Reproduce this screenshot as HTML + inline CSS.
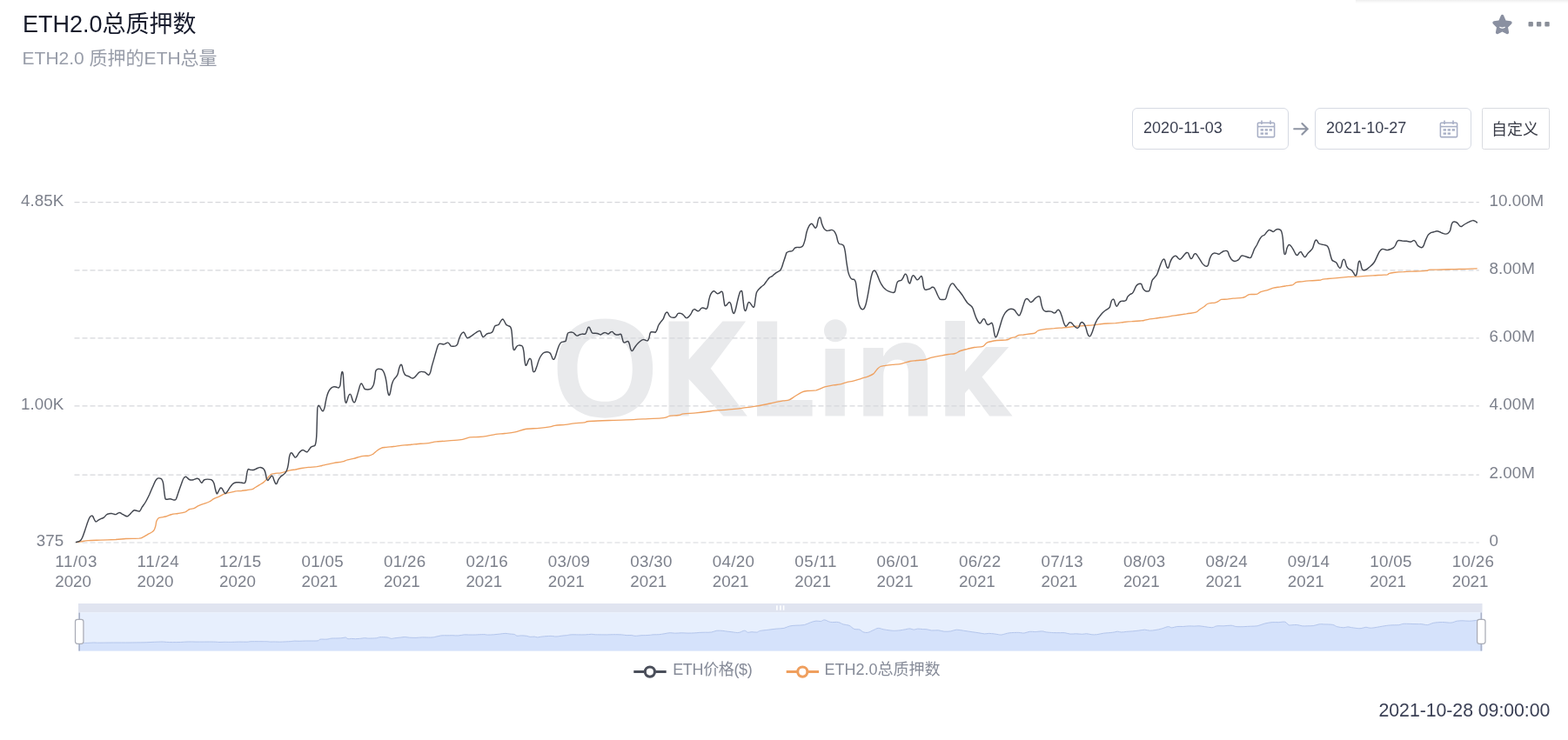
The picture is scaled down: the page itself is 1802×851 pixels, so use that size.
<!DOCTYPE html>
<html><head><meta charset="utf-8"><title>ETH2.0</title>
<style>
*{margin:0;padding:0;box-sizing:border-box}
html,body{width:1802px;height:851px;background:#fff;overflow:hidden}
body{position:relative;font-family:"Liberation Sans","Noto Sans CJK SC",sans-serif}
.abs{position:absolute;white-space:nowrap}
#topsh{left:1558px;top:0;width:244px;height:4px;background:linear-gradient(#eeeeee,#f7f7f7 50%,#fff)}
#title{left:25.9px;top:12.7px;font-size:27px;line-height:31px;color:#171b2c}
#sub{left:25.6px;top:55.3px;font-size:21px;line-height:24px;color:#989da9}
.box{top:124.2px;height:47.6px;border:1.5px solid #d6dae3;border-radius:6px;background:#fff}
.box .t{position:absolute;left:11.8px;top:11.9px;font-size:18px;line-height:21px;color:#3a3f50}
.box svg.cal{position:absolute;left:141.3px;top:12.4px}
#btn{left:1703px;top:124.4px;width:77.6px;height:47.2px;padding-right:1.4px;border:1.5px solid #d9dbe0;border-radius:2.4px;font-size:18px;line-height:21px;color:#3a3d48;text-align:center;padding-top:14px}
#ts{left:1584.5px;top:805.2px;font-size:21.3px;line-height:24px;color:#3b4055;letter-spacing:-0.05px}
.lg{top:760.3px;font-size:18px;line-height:21px;color:#868b98;letter-spacing:-0.35px}
#chart{position:absolute;left:0;top:0}
#chart .ax text{font-family:"Liberation Sans",sans-serif;font-size:18.8px;fill:#7d818c}
#wrap{position:absolute;left:0;top:0;width:1802px;height:851px;will-change:transform}
</style></head><body><div id="wrap">
<div class="abs" id="topsh"></div>
<div class="abs" id="title">ETH2.0总质押数</div>
<div class="abs" id="sub">ETH2.0 质押的ETH总量</div>
<svg class="abs" style="left:1713.1px;top:14.9px" width="27" height="27" viewBox="0 0 26 26"><path d="M13 1.7 C13.7 1.7 14.3 2.1 14.6 2.9 L16.9 8.3 L22.2 9 C23.7 9.2 24.3 11 23.2 12.1 L19.3 15.9 L20.3 21.3 C20.6 22.8 19 23.9 17.7 23.2 L13 20.6 L8.3 23.2 C7 23.9 5.4 22.8 5.7 21.3 L6.7 15.9 L2.8 12.1 C1.7 11 2.3 9.2 3.8 9 L9.1 8.3 L11.4 2.9 C11.7 2.1 12.3 1.7 13 1.7 Z" fill="#8a90a1"/><path d="M10.3 15.7 C12 16.7 14 16.7 15.7 15.7" fill="none" stroke="#fff" stroke-width="1.1" stroke-linecap="round"/></svg>
<svg class="abs" style="left:1755px;top:24px" width="28" height="8" viewBox="0 0 28 8"><g fill="#8a8f99"><rect x="1.5" y="1" width="5.4" height="5.4" rx="1"/><rect x="10.9" y="1" width="5.4" height="5.4" rx="1"/><rect x="20.3" y="1" width="5.4" height="5.4" rx="1"/></g></svg>
<div class="abs box" style="left:1301.300px;width:179.500px"><span class="t">2020-11-03</span><svg class="cal" viewBox="0 0 22 21" width="22" height="21"><g fill="none" stroke="#a7aec5" stroke-width="1.55"><rect x="1.4" y="3.2" width="19.2" height="16.4" rx="1"/><line x1="1.4" y1="7.6" x2="20.6" y2="7.6"/><line x1="6" y1="0.5" x2="6" y2="5"/><line x1="16" y1="0.5" x2="16" y2="5"/></g><g fill="#a9b0c6"><rect x="4.6" y="10.2" width="3.4" height="2.4"/><rect x="9.6" y="10.2" width="3.4" height="2.4"/><rect x="14.6" y="10.2" width="3.4" height="2.4"/><rect x="4.6" y="14.4" width="3.4" height="2.4"/><rect x="9.6" y="14.4" width="3.4" height="2.4"/></g></svg></div>
<svg class="abs" style="left:1484px;top:138px" width="24" height="21" viewBox="0 0 24 21"><path d="M3.2 10.3H18.4M12.4 4L18.7 10.3L12.4 16.6" fill="none" stroke="#8e94a3" stroke-width="2.1" stroke-linecap="round" stroke-linejoin="miter"/></svg>
<div class="abs box" style="left:1511.300px;width:179.500px"><span class="t">2021-10-27</span><svg class="cal" viewBox="0 0 22 21" width="22" height="21"><g fill="none" stroke="#a7aec5" stroke-width="1.55"><rect x="1.4" y="3.2" width="19.2" height="16.4" rx="1"/><line x1="1.4" y1="7.6" x2="20.6" y2="7.6"/><line x1="6" y1="0.5" x2="6" y2="5"/><line x1="16" y1="0.5" x2="16" y2="5"/></g><g fill="#a9b0c6"><rect x="4.6" y="10.2" width="3.4" height="2.4"/><rect x="9.6" y="10.2" width="3.4" height="2.4"/><rect x="14.6" y="10.2" width="3.4" height="2.4"/><rect x="4.6" y="14.4" width="3.4" height="2.4"/><rect x="9.6" y="14.4" width="3.4" height="2.4"/></g></svg></div>
<div class="abs" id="btn">自定义</div>
<svg id="chart" width="1802" height="851" viewBox="0 0 1802 851"><g id="wm" fill="#e9eaec" style="filter:blur(0.5px)"><path fill-rule="evenodd" d="M695.4 366.6C729.9 366.6 750.2 387.7 750.2 423.6C750.2 459.6 729.9 480.7 695.4 480.7C660.9 480.7 640.6 459.6 640.6 423.6C640.6 387.7 660.9 366.6 695.4 366.6ZM695.1 386.0C716.0 386.0 726.8 398.9 726.8 423.9C726.8 448.8 716.0 461.7 695.1 461.7C674.3 461.7 663.5 448.8 663.5 423.9C663.5 398.9 674.3 386.0 695.1 386.0Z"/><path d="M768.500 369.600H791.700V413.500L830.400 369.600H857.100L816.700 423.800L858.800 478.500H831.300L791.700 436V478.500H768.500Z"/><path d="M870 369.600H893.200V459.900H933.600V478.500H870Z"/><circle cx="960" cy="380.300" r="13"/><rect x="948.400" y="401" width="22.400" height="77.400"/><path d="M992.200 478.400V400H1015.200V410C1020.500 400 1030 394.100 1040.500 394.100C1057 394.100 1066.200 405 1066.200 424V478.400H1043.800V428C1043.800 418 1039 413.400 1031.500 413.400C1022 413.400 1015.200 420 1015.200 432V478.400Z"/><path d="M1086.300 369H1109V427.400L1133.100 399.100H1159.400L1128.500 433.500L1163.600 478.400H1137.200L1113.500 447L1109 452V478.400H1086.300Z"/></g>
<line x1="85.5" x2="1699.8" y1="232.6" y2="232.6" stroke="#d6d7db" stroke-width="1.15" stroke-dasharray="6 3"/>
<line x1="85.5" x2="1699.8" y1="310.8" y2="310.8" stroke="#d6d7db" stroke-width="1.15" stroke-dasharray="6 3"/>
<line x1="85.5" x2="1699.8" y1="388.8" y2="388.8" stroke="#d6d7db" stroke-width="1.15" stroke-dasharray="6 3"/>
<line x1="85.5" x2="1699.8" y1="466.9" y2="466.9" stroke="#d6d7db" stroke-width="1.15" stroke-dasharray="6 3"/>
<line x1="85.5" x2="1699.8" y1="546.1" y2="546.1" stroke="#d6d7db" stroke-width="1.15" stroke-dasharray="6 3"/>
<line x1="85.5" x2="1699.8" y1="624.0" y2="624.0" stroke="#d6d7db" stroke-width="1.15" stroke-dasharray="6 3"/>
<g class="ax" text-anchor="end">
<text x="73.2" y="236.7">4.85K</text>
<text x="73.2" y="471.0">1.00K</text>
<text x="73.2" y="628.1">375</text>
</g><g class="ax">
<text x="1711.6" y="236.6">10.00M</text>
<text x="1711.6" y="314.8">8.00M</text>
<text x="1711.6" y="392.8">6.00M</text>
<text x="1711.6" y="470.9">4.00M</text>
<text x="1711.6" y="550.1">2.00M</text>
<text x="1711.6" y="628.0">0</text>
<text x="63.2" y="651.9" textLength="48.2" lengthAdjust="spacing">11/03</text><text x="63.2" y="675.2">2020</text>
<text x="157.6" y="651.9" textLength="48.2" lengthAdjust="spacing">11/24</text><text x="157.6" y="675.2">2020</text>
<text x="252.1" y="651.9" textLength="48.2" lengthAdjust="spacing">12/15</text><text x="252.1" y="675.2">2020</text>
<text x="346.5" y="651.9" textLength="48.2" lengthAdjust="spacing">01/05</text><text x="346.5" y="675.2">2021</text>
<text x="441.0" y="651.9" textLength="48.2" lengthAdjust="spacing">01/26</text><text x="441.0" y="675.2">2021</text>
<text x="535.4" y="651.9" textLength="48.2" lengthAdjust="spacing">02/16</text><text x="535.4" y="675.2">2021</text>
<text x="629.8" y="651.9" textLength="48.2" lengthAdjust="spacing">03/09</text><text x="629.8" y="675.2">2021</text>
<text x="724.3" y="651.9" textLength="48.2" lengthAdjust="spacing">03/30</text><text x="724.3" y="675.2">2021</text>
<text x="818.7" y="651.9" textLength="48.2" lengthAdjust="spacing">04/20</text><text x="818.7" y="675.2">2021</text>
<text x="913.2" y="651.9" textLength="48.2" lengthAdjust="spacing">05/11</text><text x="913.2" y="675.2">2021</text>
<text x="1007.6" y="651.9" textLength="48.2" lengthAdjust="spacing">06/01</text><text x="1007.6" y="675.2">2021</text>
<text x="1102.0" y="651.9" textLength="48.2" lengthAdjust="spacing">06/22</text><text x="1102.0" y="675.2">2021</text>
<text x="1196.5" y="651.9" textLength="48.2" lengthAdjust="spacing">07/13</text><text x="1196.5" y="675.2">2021</text>
<text x="1290.9" y="651.9" textLength="48.2" lengthAdjust="spacing">08/03</text><text x="1290.9" y="675.2">2021</text>
<text x="1385.4" y="651.9" textLength="48.2" lengthAdjust="spacing">08/24</text><text x="1385.4" y="675.2">2021</text>
<text x="1479.8" y="651.9" textLength="48.2" lengthAdjust="spacing">09/14</text><text x="1479.8" y="675.2">2021</text>
<text x="1574.2" y="651.9" textLength="48.2" lengthAdjust="spacing">10/05</text><text x="1574.2" y="675.2">2021</text>
<text x="1668.7" y="651.9" textLength="48.2" lengthAdjust="spacing">10/26</text><text x="1668.7" y="675.2">2021</text>
</g>
<path d="M87.6 623.6C88.5 623.5 90.7 623.2 92.9 622.8C95.2 622.5 97.4 622.0 101.2 621.7C104.9 621.4 110.0 621.3 115.2 621.1C120.5 620.9 128.0 620.7 132.9 620.5C137.8 620.2 140.1 619.8 144.6 619.5C149.1 619.3 156.7 619.3 159.9 619.1C163.1 618.8 162.5 618.6 164.0 617.9C165.6 617.2 167.6 615.8 169.3 614.8C171.0 613.9 172.7 613.1 174.0 612.3C175.3 611.4 176.2 611.1 176.9 609.9C177.7 608.7 178.2 607.0 178.7 605.2C179.2 603.4 179.3 600.9 179.9 599.3C180.5 597.8 181.2 596.5 182.2 595.8C183.2 595.1 184.4 595.2 185.8 594.9C187.1 594.6 188.5 594.6 190.5 594.0C192.4 593.5 195.2 592.0 197.5 591.5C199.9 590.9 202.0 591.0 204.6 590.5C207.1 590.1 210.5 589.6 212.8 588.8C215.0 587.9 216.4 586.1 218.1 585.5C219.7 584.8 221.1 585.3 222.8 584.6C224.4 584.0 226.2 582.6 228.1 581.7C229.9 580.8 231.9 580.1 233.9 579.4C236.0 578.6 238.4 577.9 240.4 577.0C242.4 576.1 243.8 574.7 245.7 573.7C247.6 572.7 249.4 572.1 251.6 571.1C253.7 570.1 256.3 568.4 258.6 567.6C261.0 566.8 263.3 566.7 265.7 566.2C268.0 565.7 270.8 564.9 272.7 564.7C274.6 564.4 275.2 564.8 277.1 564.6C278.9 564.4 281.9 563.8 284.1 563.5C286.3 563.1 288.4 563.1 290.0 562.6C291.5 562.1 292.1 561.4 293.5 560.5C294.9 559.7 296.6 558.6 298.2 557.6C299.8 556.6 301.5 555.7 302.9 554.6C304.3 553.6 305.4 552.3 306.4 551.1C307.5 549.9 308.4 548.6 309.4 547.6C310.3 546.6 311.1 545.8 312.3 545.2C313.5 544.7 314.7 544.5 316.4 544.3C318.2 544.1 320.8 544.2 322.9 543.8C324.9 543.5 327.0 542.8 328.8 542.3C330.5 541.8 331.7 541.3 333.4 540.9C335.2 540.5 337.2 540.3 339.3 540.0C341.5 539.6 343.8 539.0 346.4 538.5C348.9 538.1 351.7 537.7 354.6 537.4C357.5 537.1 361.5 537.0 364.0 536.7C366.6 536.3 367.9 535.9 369.9 535.5C371.8 535.1 373.4 534.6 375.8 534.1C378.1 533.6 381.0 532.8 384.0 532.3C386.9 531.8 390.8 531.5 393.4 530.9C395.9 530.3 397.1 529.4 399.3 528.8C401.4 528.2 404.0 528.0 406.3 527.4C408.7 526.8 411.4 525.8 413.4 525.3C415.3 524.8 416.3 524.6 418.1 524.4C419.8 524.2 422.2 524.4 423.9 524.1C425.7 523.7 427.1 523.3 428.6 522.3C430.2 521.4 431.8 519.4 433.3 518.2C434.9 517.0 436.3 515.9 438.0 515.3C439.8 514.6 441.6 514.6 443.9 514.3C446.3 514.0 449.4 513.8 452.1 513.5C454.9 513.2 457.4 512.7 460.4 512.3C463.3 512.0 467.4 511.8 470.0 511.5C472.6 511.3 472.0 511.3 476.0 510.9C480.0 510.5 489.6 509.8 494.0 509.3C498.3 508.8 496.3 508.5 501.9 507.9C507.6 507.3 521.6 506.7 527.9 505.9C534.2 505.1 536.2 503.5 539.9 502.9C543.6 502.3 546.6 502.8 549.9 502.5C553.2 502.2 556.6 501.8 559.9 501.3C563.2 500.8 566.5 499.8 569.9 499.3C573.2 498.8 576.2 498.9 579.9 498.5C583.5 498.1 587.9 497.7 591.9 496.9C595.8 496.1 599.2 494.3 603.8 493.5C608.5 492.8 615.2 492.8 619.8 492.3C624.5 491.9 628.8 491.4 631.8 490.9C634.8 490.4 634.8 489.8 637.8 489.3C640.8 488.9 646.1 488.7 649.8 488.3C653.5 487.9 656.1 487.3 659.8 486.9C663.4 486.5 668.9 486.3 671.8 485.9C674.6 485.5 672.1 484.9 676.8 484.5C681.4 484.1 692.6 483.8 699.7 483.5C706.9 483.3 713.1 483.2 719.7 482.9C726.4 482.7 733.0 482.3 739.7 481.9C746.3 481.6 755.3 481.3 759.7 480.9C764.0 480.6 764.0 480.4 765.7 479.9C767.3 479.5 767.3 478.7 769.6 478.3C772.0 477.9 777.0 477.9 779.6 477.5C782.3 477.1 782.3 476.4 785.6 475.9C789.0 475.5 795.3 475.3 799.6 474.9C803.9 474.5 807.9 474.0 811.6 473.5C815.3 473.1 816.6 472.8 822.0 472.2C827.4 471.7 836.0 471.3 844.0 470.4C852.0 469.6 862.3 468.1 869.9 466.9C877.6 465.6 884.9 463.9 889.9 462.9C894.9 461.9 897.1 461.4 899.9 460.9C902.7 460.4 904.6 460.8 906.9 459.9C909.2 459.0 911.4 457.0 913.9 455.5C916.4 454.0 919.5 451.9 921.9 450.9C924.2 449.9 925.2 449.8 927.9 449.5C930.5 449.1 934.5 449.6 937.9 448.9C941.2 448.1 944.5 445.9 947.9 444.9C951.2 443.9 954.8 443.4 957.8 442.9C960.8 442.4 963.2 442.5 965.8 441.9C968.5 441.3 971.5 439.9 973.8 439.3C976.2 438.7 977.1 439.0 979.8 438.3C982.5 437.6 986.8 436.2 989.8 435.3C992.8 434.4 995.5 433.8 997.8 432.9C1000.1 432.0 1002.1 431.2 1003.8 429.9C1005.4 428.6 1006.4 426.3 1007.8 424.9C1009.1 423.5 1010.1 422.3 1011.8 421.5C1013.4 420.7 1015.4 420.7 1017.8 420.3C1020.1 419.9 1022.8 419.6 1025.8 419.3C1028.8 419.0 1032.4 418.9 1035.8 418.3C1039.1 417.7 1042.7 416.2 1045.7 415.5C1048.7 414.9 1050.7 414.9 1053.7 414.5C1056.7 414.2 1061.1 414.1 1063.7 413.5C1066.4 413.0 1067.0 412.0 1069.7 411.3C1072.4 410.6 1076.4 410.0 1079.7 409.3C1083.0 408.7 1086.7 408.0 1089.7 407.5C1092.7 407.1 1095.4 407.2 1097.7 406.5C1100.0 405.9 1101.3 404.4 1103.7 403.5C1106.0 402.7 1109.0 402.0 1111.7 401.3C1114.3 400.7 1116.7 400.0 1119.7 399.5C1122.6 399.0 1127.1 399.3 1129.6 398.3C1132.1 397.4 1132.0 395.1 1134.6 393.9C1137.3 392.8 1142.2 392.0 1145.6 391.5C1149.0 391.1 1152.8 391.3 1155.0 391.1C1157.2 390.9 1157.4 390.9 1158.5 390.5C1159.7 390.1 1160.7 389.2 1162.0 388.7C1163.4 388.2 1165.3 388.1 1166.8 387.6C1168.2 387.0 1169.3 385.9 1170.9 385.4C1172.4 385.0 1174.1 385.2 1176.2 385.0C1178.2 384.7 1181.0 384.3 1183.2 384.0C1185.4 383.7 1187.5 383.7 1189.1 383.1C1190.6 382.5 1191.4 381.1 1192.6 380.5C1193.8 379.9 1194.6 379.7 1196.1 379.3C1197.7 379.0 1199.5 378.7 1202.0 378.4C1204.5 378.1 1208.3 377.8 1211.4 377.6C1214.5 377.3 1217.7 377.2 1220.8 377.0C1223.9 376.7 1227.1 376.4 1230.2 376.0C1233.3 375.7 1236.5 375.1 1239.6 374.9C1242.7 374.6 1246.3 374.6 1249.0 374.4C1251.8 374.2 1253.7 374.1 1256.1 373.8C1258.4 373.6 1260.4 373.2 1263.1 372.9C1265.9 372.6 1269.4 372.2 1272.5 372.0C1275.6 371.8 1278.8 371.9 1281.9 371.7C1285.0 371.4 1288.2 370.9 1291.3 370.5C1294.4 370.2 1297.6 369.9 1300.7 369.7C1303.8 369.4 1307.8 369.2 1310.1 369.0C1312.5 368.8 1313.2 368.8 1314.8 368.5C1316.4 368.2 1317.4 367.7 1319.5 367.3C1321.7 366.9 1325.0 366.6 1327.7 366.2C1330.5 365.8 1332.2 365.5 1336.0 365.0C1339.7 364.4 1345.5 363.6 1350.1 362.9C1354.7 362.2 1359.5 361.5 1363.5 360.9C1367.5 360.2 1371.8 360.0 1374.2 359.2C1376.7 358.4 1376.7 357.2 1378.2 356.2C1379.8 355.1 1382.0 353.9 1383.6 352.8C1385.1 351.7 1386.3 350.2 1387.6 349.5C1388.9 348.7 1390.2 348.7 1391.6 348.5C1393.1 348.2 1394.9 348.5 1396.3 348.1C1397.8 347.8 1399.1 347.1 1400.3 346.5C1401.6 345.8 1402.0 344.8 1403.7 344.4C1405.4 344.1 1408.1 344.3 1410.4 344.1C1412.6 343.9 1414.2 343.4 1417.1 343.1C1420.0 342.8 1425.3 342.8 1427.8 342.4C1430.2 342.0 1430.5 341.4 1431.8 340.8C1433.1 340.1 1433.8 339.0 1435.8 338.6C1437.8 338.2 1441.9 338.8 1443.9 338.4C1445.9 338.0 1446.8 336.6 1447.9 336.1C1449.0 335.5 1448.8 335.6 1450.4 335.2C1452.0 334.7 1455.3 334.1 1457.5 333.4C1459.6 332.7 1461.0 331.7 1463.4 331.1C1465.7 330.5 1469.0 330.3 1471.6 329.9C1474.1 329.5 1476.3 329.1 1478.6 328.7C1481.0 328.3 1483.8 328.2 1485.7 327.6C1487.5 326.9 1488.0 325.2 1489.8 324.6C1491.6 324.0 1493.8 324.1 1496.3 323.8C1498.7 323.5 1501.9 323.1 1504.5 322.9C1507.1 322.7 1509.8 322.7 1512.0 322.5C1514.3 322.4 1516.6 322.2 1517.9 322.0C1519.3 321.7 1517.5 321.5 1520.3 321.1C1523.0 320.8 1529.5 320.3 1534.4 319.8C1539.3 319.4 1544.8 318.8 1549.7 318.4C1554.5 318.1 1559.0 318.1 1563.8 317.8C1568.5 317.6 1573.9 317.2 1577.9 316.9C1581.8 316.6 1584.5 316.5 1587.3 316.3C1590.0 316.1 1592.7 316.2 1594.3 315.9C1595.9 315.5 1595.5 314.7 1596.7 314.3C1597.8 313.9 1598.6 313.8 1601.4 313.5C1604.1 313.2 1608.8 312.8 1613.1 312.6C1617.4 312.3 1622.9 312.2 1627.2 312.0C1631.5 311.8 1636.2 311.7 1639.0 311.4C1641.7 311.1 1640.5 310.4 1643.7 310.2C1646.8 310.0 1653.1 310.1 1657.8 310.0C1662.5 309.9 1667.2 309.7 1671.9 309.6C1676.6 309.5 1681.7 309.4 1686.0 309.3C1690.2 309.1 1695.3 308.9 1697.1 308.8" fill="none" stroke="#efa160" stroke-width="1.35" stroke-linejoin="round" stroke-linecap="round"/>
<path d="M87.6 623.4C88.3 623.2 90.7 622.9 91.8 622.2C92.8 621.6 93.1 621.4 94.1 619.3C95.1 617.3 96.5 613.2 97.6 609.9C98.8 606.6 100.2 601.9 101.2 599.3C102.1 596.7 102.8 595.4 103.5 594.4C104.2 593.4 104.7 593.2 105.3 593.1C105.8 593.0 106.2 593.2 106.8 594.0C107.4 594.9 108.2 597.2 108.8 598.2C109.4 599.1 109.5 600.0 110.3 599.9C111.1 599.9 112.5 598.5 113.5 597.9C114.5 597.3 115.5 596.8 116.4 596.4C117.4 595.9 118.4 595.9 119.4 595.2C120.3 594.5 121.3 592.8 122.3 592.0C123.3 591.3 124.3 591.0 125.2 590.8C126.2 590.5 127.2 590.4 128.2 590.5C129.2 590.6 130.2 591.2 131.1 591.3C132.0 591.5 132.5 591.8 133.5 591.5C134.4 591.2 135.9 589.7 137.0 589.6C138.1 589.5 138.9 590.2 139.9 590.8C141.0 591.3 142.4 592.4 143.4 592.9C144.5 593.4 145.5 593.9 146.4 593.8C147.3 593.7 147.9 592.9 148.7 592.0C149.6 591.2 150.8 589.6 151.7 588.8C152.6 587.9 153.4 587.0 154.3 586.8C155.2 586.5 155.9 587.1 157.0 587.2C158.0 587.4 159.4 588.5 160.5 587.8C161.6 587.1 162.3 584.7 163.4 582.9C164.6 581.1 166.2 579.4 167.5 577.0C168.9 574.6 170.4 571.5 171.7 568.8C172.9 566.0 174.0 563.2 175.2 560.5C176.4 557.9 177.7 554.6 178.7 552.9C179.7 551.2 180.3 550.7 181.1 550.2C181.8 549.7 182.6 549.8 183.4 550.0C184.2 550.1 185.1 550.3 185.8 551.1C186.4 552.0 187.0 552.9 187.5 555.3C188.0 557.6 188.3 562.3 188.7 565.2C189.1 568.2 189.4 571.7 189.9 573.2C190.4 574.7 190.7 574.2 191.6 574.3C192.6 574.4 194.4 573.7 195.8 573.8C197.1 573.9 198.8 575.0 199.9 575.0C200.9 575.0 201.4 575.3 202.2 574.1C203.0 572.8 203.6 570.3 204.6 567.6C205.5 564.9 207.0 560.5 208.1 557.6C209.2 554.7 210.1 551.5 211.0 550.0C211.9 548.4 212.7 548.3 213.4 548.2C214.1 548.1 214.4 548.8 215.1 549.4C215.9 550.0 216.9 551.3 218.1 551.7C219.2 552.1 220.8 552.0 222.2 551.7C223.6 551.5 225.2 550.3 226.3 550.2C227.4 550.1 227.8 550.3 228.7 551.1C229.5 552.0 230.6 555.1 231.6 555.3C232.6 555.4 233.3 552.7 234.5 552.0C235.7 551.3 237.3 551.2 238.6 551.1C240.0 551.1 241.6 551.1 242.8 551.7C243.9 552.4 244.9 553.5 245.7 555.3C246.5 557.0 246.9 560.2 247.4 562.3C248.0 564.4 248.6 567.4 249.2 567.8C249.8 568.3 250.3 566.4 251.0 565.2C251.7 564.1 252.6 561.7 253.3 561.1C254.0 560.6 254.4 560.9 255.1 561.7C255.8 562.5 256.8 564.9 257.4 565.8C258.1 566.8 258.5 567.8 259.2 567.6C259.9 567.4 260.6 566.0 261.6 564.7C262.5 563.3 264.0 560.8 265.1 559.4C266.2 558.0 266.9 556.9 268.0 556.1C269.1 555.3 270.2 554.9 271.5 554.7C272.9 554.5 275.3 554.9 276.2 554.9C277.2 555.0 276.2 554.9 277.1 555.0C277.9 555.1 280.2 556.0 281.2 555.5C282.1 554.9 282.2 553.7 282.7 551.7C283.1 549.7 283.4 545.5 283.9 543.5C284.3 541.5 284.7 540.1 285.3 539.6C285.9 539.1 286.7 540.0 287.6 540.2C288.6 540.3 290.0 540.7 291.1 540.5C292.3 540.3 293.5 539.5 294.7 539.0C295.9 538.5 297.1 537.8 298.2 537.6C299.3 537.4 300.3 537.6 301.1 538.0C302.0 538.4 302.8 538.8 303.5 540.0C304.2 541.1 304.8 542.9 305.2 544.6C305.7 546.4 306.0 549.2 306.4 550.5C306.9 551.8 307.3 552.6 307.8 552.5C308.4 552.4 309.2 550.8 309.9 549.9C310.7 549.1 311.5 547.5 312.1 547.2C312.7 546.9 313.0 547.2 313.5 548.2C314.0 549.1 314.7 551.5 315.2 552.9C315.8 554.2 316.3 555.7 316.8 556.2C317.3 556.7 317.7 556.6 318.2 555.8C318.7 555.1 319.3 552.9 319.9 551.7C320.6 550.5 321.4 549.3 322.3 548.4C323.2 547.5 324.3 546.9 325.2 546.2C326.1 545.5 326.8 545.1 327.6 544.1C328.4 543.0 329.3 541.6 329.9 540.0C330.6 538.3 330.9 536.5 331.3 534.1C331.8 531.6 332.1 527.4 332.5 525.3C333.0 523.1 333.5 521.8 334.0 521.1C334.6 520.5 335.0 520.7 335.6 521.1C336.2 521.6 336.9 523.3 337.6 524.1C338.2 524.9 338.7 526.0 339.3 526.1C339.9 526.2 340.4 525.5 341.1 524.7C341.8 523.9 342.6 522.2 343.4 521.1C344.3 520.1 345.5 518.8 346.4 518.2C347.2 517.6 347.7 517.5 348.5 517.6C349.3 517.8 350.3 518.8 351.1 519.1C351.9 519.5 352.5 520.1 353.2 519.7C353.9 519.4 354.5 518.0 355.2 517.0C355.9 516.1 356.7 514.8 357.5 514.1C358.4 513.4 359.7 513.3 360.5 512.9C361.3 512.5 361.8 512.9 362.2 511.8C362.7 510.6 363.1 508.4 363.4 505.9C363.7 503.3 363.8 502.1 364.0 496.4C364.2 490.7 364.5 476.5 364.7 471.7C364.9 466.9 365.1 468.5 365.4 467.6C365.7 466.7 366.1 466.2 366.6 466.4C367.0 466.6 367.6 467.9 368.1 468.8C368.7 469.7 369.4 471.3 369.9 472.0C370.4 472.6 370.8 473.1 371.3 472.7C371.8 472.2 372.4 470.9 372.8 469.4C373.3 467.9 373.5 465.9 374.0 463.5C374.5 461.1 375.1 457.6 375.8 455.3C376.4 452.9 377.2 451.0 378.1 449.4C379.0 447.8 380.1 446.7 381.1 445.9C382.0 445.1 383.0 444.8 384.0 444.7C385.0 444.6 386.0 445.1 386.9 445.3C387.8 445.5 388.6 446.3 389.3 445.9C390.0 445.5 390.6 444.7 391.0 442.9C391.4 441.2 391.5 437.6 391.8 435.2C392.0 432.9 392.4 430.0 392.7 428.8C393.0 427.5 393.2 427.3 393.5 427.6C393.8 427.9 394.1 428.3 394.3 430.5C394.6 432.8 394.8 437.4 395.0 441.1C395.3 444.8 395.6 449.5 395.9 452.9C396.1 456.2 396.4 459.3 396.7 461.1C397.0 462.8 397.3 463.4 397.6 463.4C398.0 463.4 398.3 462.4 398.8 461.1C399.3 459.7 400.0 456.5 400.6 455.2C401.1 453.9 401.8 453.1 402.3 453.1C402.9 453.1 403.3 454.0 403.7 455.2C404.2 456.4 404.8 459.2 405.3 460.5C405.8 461.8 406.3 462.6 406.8 462.8C407.3 463.0 407.6 462.9 408.2 461.7C408.8 460.4 409.6 457.5 410.3 455.2C411.0 453.0 411.7 450.3 412.3 448.2C412.9 446.0 413.5 443.5 414.1 442.3C414.6 441.1 415.0 440.9 415.5 441.1C416.0 441.3 416.5 442.5 417.0 443.4C417.6 444.4 418.2 446.3 418.8 447.0C419.4 447.7 419.7 447.7 420.5 447.8C421.4 447.9 423.0 448.0 424.1 447.8C425.1 447.6 426.1 447.3 427.0 446.4C427.9 445.5 428.7 444.1 429.4 442.3C430.0 440.4 430.4 437.8 430.8 435.2C431.2 432.7 431.2 428.8 431.7 427.0C432.2 425.2 432.7 425.1 433.5 424.6C434.3 424.2 435.4 424.3 436.4 424.4C437.4 424.5 438.5 424.4 439.3 425.2C440.2 426.1 440.9 427.1 441.7 429.4C442.5 431.6 443.5 435.6 444.0 438.8C444.6 441.9 444.8 445.7 445.2 448.2C445.6 450.6 446.0 452.4 446.4 453.4C446.8 454.5 447.2 454.8 447.6 454.3C448.0 453.8 448.3 452.5 448.7 450.5C449.2 448.5 449.7 444.5 450.3 442.3C450.9 440.0 451.5 438.4 452.3 437.0C453.0 435.6 453.8 435.1 454.6 434.1C455.4 433.0 456.3 432.3 457.0 430.5C457.7 428.8 458.1 425.3 458.7 423.5C459.3 421.6 459.9 419.9 460.5 419.4C461.0 418.9 461.5 419.4 462.0 420.5C462.5 421.7 462.9 424.8 463.4 426.4C464.0 428.1 464.6 429.6 465.2 430.5C465.8 431.4 466.3 431.6 467.0 431.9C467.6 432.3 468.4 432.2 469.3 432.6C470.2 433.1 471.4 434.0 472.2 434.4C473.1 434.8 473.8 435.1 474.6 435.0C475.4 434.8 476.1 434.3 476.9 433.5C477.8 432.6 479.0 430.9 479.9 429.9C480.8 429.0 481.3 428.3 482.2 427.8C483.1 427.4 484.2 427.3 485.2 427.4C486.2 427.4 487.1 427.5 488.1 427.9C489.1 428.4 490.3 429.8 491.1 430.3C491.8 430.8 492.2 431.5 492.8 431.1C493.4 430.8 494.0 429.8 494.6 428.2C495.2 426.5 495.6 423.7 496.3 421.1C497.0 418.6 497.9 415.6 498.7 412.9C499.5 410.2 500.2 407.3 501.0 404.7C501.8 402.0 502.7 398.6 503.4 397.0C504.1 395.5 504.5 395.5 505.1 395.3C505.8 395.0 506.6 395.4 507.5 395.5C508.4 395.6 509.6 396.0 510.4 395.9C511.3 395.7 512.1 395.0 512.8 394.7C513.5 394.4 514.0 393.8 514.5 393.9C515.1 394.0 515.7 394.6 516.3 395.3C516.9 395.9 517.4 397.4 518.1 397.9C518.8 398.3 519.5 398.2 520.4 398.2C521.3 398.2 522.5 398.3 523.4 397.9C524.2 397.5 525.0 397.2 525.7 395.9C526.4 394.5 526.8 391.9 527.5 390.0C528.2 388.1 529.0 386.0 529.8 384.7C530.6 383.4 531.5 382.4 532.2 382.1C532.8 381.8 533.2 382.3 533.7 382.9C534.2 383.6 534.6 384.9 535.1 385.9C535.6 386.8 536.2 388.2 536.9 388.6C537.6 388.9 538.2 388.5 539.2 388.0C540.2 387.5 541.5 386.5 542.8 385.6C544.0 384.7 545.6 383.4 546.9 382.6C548.1 381.7 549.5 380.9 550.4 380.6C551.3 380.3 551.6 380.2 552.1 380.9C552.7 381.7 553.2 384.2 553.7 385.3C554.2 386.4 554.6 387.4 555.1 387.6C555.6 387.8 556.2 387.0 556.9 386.5C557.5 385.9 558.4 384.6 559.2 384.1C560.0 383.6 560.8 383.5 561.5 383.3C562.3 383.1 563.1 383.3 563.9 382.9C564.7 382.6 565.5 382.4 566.2 381.2C567.0 379.9 567.7 376.5 568.5 375.3C569.3 374.1 570.1 374.5 570.9 374.1C571.6 373.8 572.4 374.0 573.2 373.2C574.0 372.4 574.9 370.1 575.6 369.1C576.2 368.1 576.8 367.3 577.3 367.1C577.9 366.9 578.2 367.2 578.7 367.9C579.3 368.6 580.0 370.5 580.6 371.4C581.2 372.4 581.5 373.2 582.3 373.8C583.0 374.4 584.2 374.6 585.0 375.0C585.7 375.4 586.2 375.3 586.7 376.1C587.2 377.0 587.6 378.2 587.9 380.2C588.2 382.3 588.5 385.5 588.7 388.5C589.0 391.4 589.2 395.6 589.4 397.9C589.7 400.1 589.9 401.3 590.2 402.0C590.6 402.7 591.1 402.6 591.7 402.0C592.2 401.4 593.0 399.3 593.8 398.5C594.5 397.6 595.2 397.2 596.1 397.1C597.0 396.9 598.3 397.2 599.1 397.5C599.9 397.9 600.3 397.8 600.8 399.1C601.3 400.3 601.6 402.4 602.0 404.9C602.4 407.5 602.6 411.8 602.9 414.3C603.3 416.8 603.7 419.2 604.1 420.0C604.6 420.8 605.0 420.0 605.5 419.0C606.1 418.1 606.7 415.4 607.3 414.3C607.9 413.2 608.5 412.3 609.0 412.3C609.6 412.3 610.1 413.0 610.5 414.3C610.9 415.6 611.0 418.2 611.4 420.2C611.8 422.3 612.2 425.4 612.6 426.7C613.0 427.9 613.3 427.7 613.8 427.6C614.2 427.5 614.6 427.3 615.2 426.1C615.7 424.8 616.5 422.4 617.3 420.2C618.0 418.1 618.7 415.2 619.6 413.2C620.5 411.1 621.6 409.2 622.6 407.9C623.6 406.6 624.4 405.8 625.5 405.3C626.6 404.8 628.0 404.6 629.0 404.7C630.1 404.8 631.2 405.1 632.0 405.9C632.8 406.6 633.2 407.9 633.7 409.0C634.3 410.2 634.6 411.9 635.1 412.6C635.6 413.3 636.2 413.6 636.7 413.2C637.2 412.8 637.6 411.8 638.2 410.2C638.8 408.7 639.5 405.9 640.2 403.8C640.9 401.6 641.8 399.0 642.5 397.3C643.3 395.6 644.0 394.5 644.9 393.8C645.8 393.0 647.0 393.2 647.8 392.9C648.7 392.7 649.4 393.1 650.0 392.4C650.5 391.6 650.7 389.9 651.1 388.5C651.5 387.1 651.8 384.8 652.3 383.8C652.8 382.8 652.9 382.6 653.9 382.4C655.0 382.1 657.3 382.0 658.4 382.4C659.5 382.7 660.0 383.7 660.8 384.4C661.5 385.0 662.2 386.0 663.1 386.1C664.0 386.2 665.1 385.3 666.0 384.9C667.0 384.6 667.9 384.3 669.0 384.1C670.1 384.0 671.6 384.7 672.5 384.1C673.4 383.6 673.7 382.1 674.3 380.8C674.8 379.6 675.3 377.5 675.8 376.7C676.3 376.0 676.7 376.0 677.2 376.4C677.7 376.8 678.1 378.0 678.6 379.1C679.2 380.2 679.8 382.2 680.5 382.8C681.2 383.5 682.1 383.1 683.1 383.2C684.1 383.3 685.4 383.2 686.6 383.5C687.8 383.8 689.2 384.9 690.1 384.9C691.1 384.9 691.7 384.0 692.5 383.5C693.3 383.1 694.1 382.4 694.8 382.4C695.6 382.3 696.4 382.9 697.2 383.2C697.9 383.5 698.6 384.2 699.3 384.0C700.0 383.8 700.9 382.4 701.6 382.0C702.4 381.6 703.0 381.2 703.6 381.4C704.3 381.6 704.7 382.6 705.4 383.2C706.1 383.8 706.9 384.7 707.8 384.9C708.6 385.2 709.7 385.0 710.7 384.9C711.7 384.9 712.9 383.8 713.6 384.4C714.4 385.0 714.6 387.1 715.0 388.5C715.5 389.9 715.8 392.0 716.2 392.9C716.7 393.9 717.1 394.1 717.8 394.1C718.4 394.1 719.4 393.2 720.1 392.9C720.8 392.7 721.3 392.2 721.9 392.6C722.4 393.0 722.8 394.1 723.3 395.5C723.8 397.0 724.3 400.1 724.8 401.4C725.3 402.7 725.5 403.4 726.0 403.5C726.5 403.7 727.1 403.2 727.7 402.3C728.4 401.5 729.2 399.7 730.1 398.5C731.0 397.2 732.1 396.0 733.0 394.9C734.0 393.9 735.0 393.0 736.0 392.2C736.9 391.5 737.9 390.8 738.9 390.6C739.9 390.4 740.9 391.0 741.8 391.2C742.8 391.4 743.7 392.2 744.4 391.8C745.1 391.3 745.5 389.9 746.0 388.5C746.4 387.1 746.7 384.3 747.1 383.2C747.6 382.1 747.8 382.0 748.6 381.8C749.5 381.6 751.6 381.9 752.4 382.0C753.2 382.1 752.8 382.7 753.2 382.2C753.7 381.8 754.4 380.7 755.0 379.3C755.6 377.9 756.0 375.6 756.8 374.0C757.5 372.5 758.8 371.2 759.7 369.9C760.6 368.6 761.6 367.9 762.4 366.4C763.2 364.9 763.8 362.3 764.4 361.1C765.0 359.9 765.6 359.3 766.1 359.1C766.7 358.9 767.0 359.2 767.6 359.9C768.1 360.6 768.8 362.6 769.4 363.4C770.1 364.3 770.4 364.6 771.4 364.9C772.5 365.1 774.6 365.2 775.5 365.0C776.5 364.7 776.7 364.2 777.3 363.4C777.9 362.7 778.4 361.0 779.1 360.5C779.8 360.0 780.5 360.1 781.4 360.3C782.3 360.4 783.5 360.7 784.4 361.3C785.3 361.9 786.0 363.1 786.7 363.8C787.4 364.5 788.0 365.4 788.7 365.6C789.4 365.7 790.0 365.5 790.8 364.9C791.7 364.2 792.9 362.8 793.8 361.4C794.7 360.1 795.4 358.0 796.1 357.0C796.8 356.0 797.3 355.7 797.9 355.6C798.5 355.5 799.0 356.0 799.6 356.4C800.3 356.8 801.3 357.7 802.0 357.8C802.7 357.9 803.1 357.6 803.8 357.0C804.4 356.4 805.2 354.7 806.1 354.3C807.0 353.8 808.1 354.1 809.0 354.3C810.0 354.4 811.3 355.6 812.0 355.2C812.7 354.9 812.9 354.1 813.4 352.3C813.9 350.4 814.3 346.4 814.9 344.1C815.5 341.7 816.1 339.7 816.9 338.2C817.7 336.7 818.9 335.4 819.6 334.9C820.4 334.4 820.6 334.8 821.4 335.2C822.2 335.7 823.4 337.3 824.3 337.6C825.2 337.9 825.9 337.4 826.7 337.0C827.5 336.6 828.4 335.3 829.0 335.2C829.7 335.1 830.1 335.0 830.5 336.4C831.0 337.9 831.3 341.6 831.7 344.1C832.1 346.5 832.4 349.9 832.9 351.1C833.4 352.3 833.9 351.7 834.5 351.3C835.2 350.9 836.0 349.4 836.7 348.8C837.3 348.1 838.1 347.4 838.6 347.6C839.2 347.8 839.5 348.5 840.0 349.9C840.4 351.4 840.9 354.7 841.4 356.4C841.8 358.1 842.1 359.3 842.5 359.9C843.0 360.5 843.5 360.7 843.9 359.9C844.4 359.1 844.9 357.5 845.5 355.2C846.1 353.0 846.8 349.2 847.5 346.4C848.2 343.6 848.9 340.1 849.6 338.2C850.2 336.2 850.8 335.0 851.4 334.6C851.9 334.3 852.4 334.1 852.9 335.8C853.3 337.6 853.7 342.1 854.0 345.2C854.4 348.4 854.8 352.6 855.2 354.6C855.6 356.7 856.0 357.5 856.4 357.6C856.8 357.7 857.3 356.7 857.8 355.2C858.3 353.8 859.0 350.0 859.6 348.8C860.1 347.5 860.5 347.4 861.1 347.6C861.7 347.8 862.4 349.0 863.1 349.9C863.8 350.9 864.8 352.9 865.5 353.2C866.1 353.5 866.5 353.2 867.0 351.7C867.4 350.2 867.8 346.5 868.1 344.1C868.5 341.6 868.8 338.8 869.3 337.0C869.8 335.2 870.4 334.7 871.3 333.5C872.2 332.3 873.7 331.0 874.9 329.9C876.0 328.9 877.3 328.2 878.4 327.0C879.4 325.8 880.3 324.2 881.3 322.9C882.3 321.6 883.2 320.3 884.2 319.4C885.3 318.4 886.6 318.1 887.8 317.3C888.9 316.4 890.2 314.9 891.3 314.1C892.4 313.3 893.4 312.8 894.2 312.3C895.1 311.8 895.9 311.9 896.6 311.1C897.3 310.4 897.7 309.4 898.4 307.6C899.0 305.9 899.9 302.9 900.7 300.6C901.5 298.2 902.5 295.2 903.0 293.5C903.6 291.9 903.4 291.3 904.1 290.5C904.8 289.8 906.0 289.5 907.0 289.1C908.1 288.8 909.5 289.2 910.6 288.5C911.6 287.9 912.5 285.9 913.5 285.2C914.5 284.6 915.4 284.6 916.4 284.4C917.5 284.3 918.9 284.8 920.0 284.4C921.0 284.1 922.1 283.6 922.9 282.3C923.7 281.0 924.3 279.0 925.0 276.4C925.7 273.9 926.3 269.7 927.0 267.0C927.7 264.4 928.6 262.1 929.4 260.6C930.2 259.0 931.0 258.1 931.7 257.6C932.4 257.1 932.9 257.2 933.5 257.6C934.1 258.0 934.6 259.2 935.2 260.0C935.9 260.8 936.7 262.3 937.2 262.3C937.8 262.3 938.3 261.5 938.8 260.0C939.3 258.4 939.8 254.6 940.3 252.9C940.8 251.3 941.2 250.3 941.7 250.0C942.2 249.7 942.6 249.9 943.1 251.2C943.6 252.4 944.0 255.7 944.6 257.6C945.3 259.6 946.1 261.6 947.0 262.9C947.9 264.2 948.9 264.9 949.9 265.3C950.9 265.6 951.9 265.2 952.9 265.0C953.8 264.9 954.8 264.3 955.8 264.4C956.8 264.6 957.9 264.8 958.7 265.9C959.6 266.9 960.4 268.6 961.1 270.6C961.8 272.5 962.3 275.9 962.9 277.6C963.4 279.3 963.8 280.0 964.6 280.5C965.4 281.1 966.7 280.7 967.6 281.1C968.4 281.5 969.0 281.5 969.7 282.9C970.3 284.3 970.8 286.3 971.3 289.4C971.8 292.4 972.3 297.2 972.8 301.1C973.4 305.0 974.2 309.9 974.8 312.9C975.5 315.8 976.2 317.4 977.0 318.7C977.7 320.1 978.5 320.6 979.3 321.1C980.1 321.5 981.0 320.8 981.7 321.4C982.3 322.0 982.9 322.7 983.4 324.6C983.9 326.5 984.2 330.1 984.6 332.8C984.9 335.6 985.1 338.4 985.5 341.1C985.9 343.9 986.5 347.2 987.0 349.4C987.6 351.5 988.2 352.7 988.8 353.8C989.4 354.9 990.2 355.6 990.9 355.8C991.6 356.0 992.2 355.9 992.9 355.0C993.6 354.1 994.2 352.8 994.9 350.5C995.6 348.2 996.3 344.7 997.0 341.1C997.7 337.6 998.5 333.1 999.1 329.4C999.8 325.7 1000.5 321.6 1001.1 318.8C1001.8 316.0 1002.6 313.6 1003.1 312.3C1003.7 311.1 1004.1 311.2 1004.7 311.2C1005.2 311.2 1005.7 311.3 1006.4 312.3C1007.1 313.4 1008.0 315.8 1008.8 317.6C1009.6 319.5 1010.2 321.6 1011.1 323.5C1012.0 325.4 1013.0 327.3 1014.1 328.8C1015.1 330.3 1016.3 331.6 1017.6 332.7C1018.9 333.7 1020.3 334.6 1021.7 335.2C1023.1 335.9 1024.7 336.3 1025.8 336.4C1026.9 336.5 1027.6 336.6 1028.2 335.8C1028.8 335.1 1028.9 333.5 1029.3 331.7C1029.8 330.0 1030.3 326.7 1030.9 325.3C1031.5 323.8 1032.0 323.6 1032.9 323.1C1033.7 322.7 1035.0 323.0 1035.8 322.3C1036.6 321.7 1037.3 320.5 1037.9 319.4C1038.5 318.3 1039.0 316.5 1039.6 315.9C1040.1 315.2 1040.6 314.9 1041.1 315.3C1041.6 315.7 1042.1 316.7 1042.6 318.2C1043.1 319.7 1043.6 322.8 1044.0 324.1C1044.5 325.4 1045.0 326.2 1045.4 326.1C1045.9 326.0 1046.2 324.8 1046.6 323.5C1047.1 322.2 1047.6 319.3 1048.1 318.2C1048.6 317.1 1049.1 316.8 1049.7 316.8C1050.2 316.8 1050.7 317.4 1051.3 318.2C1052.0 319.0 1052.9 321.3 1053.7 321.7C1054.4 322.2 1055.1 321.5 1055.8 320.9C1056.5 320.3 1057.3 318.7 1057.9 318.2C1058.5 317.7 1058.9 317.2 1059.3 317.9C1059.7 318.5 1060.1 320.4 1060.5 322.3C1060.8 324.2 1061.0 327.6 1061.4 329.4C1061.8 331.1 1062.1 332.3 1062.8 332.9C1063.6 333.5 1064.8 333.1 1065.8 332.9C1066.8 332.7 1067.8 332.4 1068.7 332.0C1069.6 331.5 1070.5 330.5 1071.3 330.3C1072.1 330.1 1072.7 330.0 1073.4 330.8C1074.2 331.6 1075.0 333.6 1075.8 335.2C1076.5 336.9 1077.4 339.1 1078.1 340.5C1078.9 342.0 1079.3 343.4 1080.2 344.1C1081.1 344.7 1082.4 344.4 1083.4 344.4C1084.4 344.4 1085.6 344.6 1086.3 344.1C1087.1 343.5 1087.2 342.9 1087.7 341.1C1088.3 339.4 1089.1 335.7 1089.9 333.5C1090.6 331.3 1091.5 329.2 1092.2 328.0C1093.0 326.7 1093.6 326.0 1094.3 325.9C1095.0 325.7 1095.5 326.1 1096.3 327.0C1097.1 327.9 1098.2 329.8 1099.3 331.1C1100.3 332.5 1101.6 333.8 1102.8 335.2C1104.0 336.7 1105.2 338.4 1106.3 339.9C1107.4 341.5 1108.3 343.2 1109.2 344.6C1110.2 346.1 1111.1 347.6 1112.2 348.8C1113.3 349.9 1114.8 350.6 1115.7 351.5C1116.7 352.4 1117.1 352.6 1117.8 354.1C1118.5 355.5 1119.1 357.9 1119.8 359.9C1120.5 362.0 1121.4 364.6 1122.2 366.4C1123.0 368.2 1123.8 369.6 1124.5 370.5C1125.2 371.4 1125.7 372.0 1126.3 371.9C1126.9 371.8 1127.5 370.7 1128.0 369.9C1128.6 369.1 1129.2 367.4 1129.8 367.0C1130.4 366.5 1131.0 366.5 1131.6 367.2C1132.2 367.9 1132.8 370.1 1133.3 371.1C1133.9 372.1 1134.4 373.2 1135.1 373.4C1135.8 373.7 1136.7 373.0 1137.5 372.6C1138.2 372.3 1139.2 371.0 1139.8 371.4C1140.4 371.9 1140.9 373.4 1141.3 375.2C1141.8 377.0 1142.1 380.3 1142.5 382.3C1142.9 384.2 1143.3 386.1 1143.7 387.0C1144.1 387.8 1144.4 388.0 1144.8 387.5C1145.3 387.1 1145.8 386.1 1146.5 384.0C1147.2 382.0 1148.3 378.2 1149.2 375.2C1150.1 372.2 1151.2 368.3 1152.1 365.8C1153.1 363.3 1154.0 361.5 1155.1 359.9C1156.2 358.4 1157.4 357.2 1158.6 356.4C1159.8 355.6 1161.0 355.2 1162.1 355.2C1163.3 355.2 1164.7 355.7 1165.7 356.4C1166.6 357.1 1167.2 358.4 1167.9 359.4C1168.7 360.3 1169.6 361.8 1170.3 362.3C1171.0 362.8 1171.5 363.0 1172.0 362.3C1172.6 361.6 1173.1 360.1 1173.8 358.2C1174.5 356.2 1175.4 352.8 1176.2 350.5C1176.9 348.3 1177.6 345.8 1178.3 344.7C1179.0 343.5 1179.6 343.4 1180.3 343.5C1180.9 343.6 1181.5 344.6 1182.3 345.2C1183.0 345.9 1183.9 347.4 1184.6 347.6C1185.4 347.8 1185.9 347.2 1186.7 346.4C1187.6 345.7 1188.7 344.0 1189.7 343.1C1190.6 342.3 1191.8 341.5 1192.6 341.1C1193.4 340.8 1194.2 340.6 1194.7 341.1C1195.3 341.7 1195.5 343.0 1195.9 344.7C1196.3 346.3 1196.5 349.2 1197.1 351.1C1197.6 353.1 1198.2 355.2 1199.1 356.4C1199.9 357.6 1200.9 357.9 1202.0 358.2C1203.1 358.4 1204.5 357.9 1205.5 357.9C1206.6 358.0 1207.5 358.1 1208.5 358.4C1209.4 358.7 1210.6 359.8 1211.4 359.9C1212.2 360.1 1212.6 359.8 1213.2 359.4C1213.8 358.9 1214.3 357.5 1214.9 357.0C1215.5 356.5 1216.1 356.1 1216.7 356.4C1217.3 356.7 1217.8 357.4 1218.5 358.8C1219.1 360.1 1219.8 362.4 1220.6 364.6C1221.3 366.9 1222.2 370.5 1222.9 372.3C1223.6 374.0 1224.3 375.0 1224.9 375.2C1225.6 375.4 1226.2 374.2 1226.9 373.4C1227.6 372.7 1228.3 371.3 1229.0 370.9C1229.7 370.5 1230.4 370.6 1231.2 371.1C1231.9 371.6 1232.9 373.2 1233.7 374.0C1234.6 374.9 1235.5 375.9 1236.3 376.4C1237.1 376.9 1237.8 377.4 1238.4 377.2C1239.1 377.1 1239.6 376.5 1240.2 375.6C1240.7 374.6 1241.2 372.5 1241.7 371.7C1242.2 370.8 1242.7 370.5 1243.4 370.5C1244.0 370.6 1244.7 371.1 1245.5 372.0C1246.2 373.0 1247.1 374.6 1247.8 376.4C1248.5 378.2 1249.0 381.2 1249.6 382.9C1250.2 384.5 1250.8 385.8 1251.4 386.4C1251.9 387.0 1252.5 387.1 1253.1 386.4C1253.7 385.7 1254.4 384.1 1255.1 382.3C1255.8 380.4 1256.6 377.5 1257.5 375.2C1258.3 373.0 1259.2 370.5 1260.2 368.8C1261.1 367.0 1262.0 366.0 1263.1 364.6C1264.2 363.2 1265.5 361.6 1266.6 360.3C1267.8 359.0 1269.1 357.8 1270.2 357.0C1271.2 356.2 1272.2 355.9 1273.1 355.2C1274.0 354.6 1274.8 354.4 1275.5 352.9C1276.1 351.4 1276.6 347.9 1277.2 346.4C1277.8 345.0 1278.4 344.3 1279.0 344.1C1279.5 343.9 1280.0 344.3 1280.5 345.2C1281.0 346.2 1281.4 348.8 1281.9 349.9C1282.4 351.1 1282.8 352.2 1283.3 352.3C1283.8 352.4 1284.3 351.4 1284.8 350.5C1285.4 349.7 1285.9 348.1 1286.6 347.4C1287.3 346.6 1288.1 346.4 1289.0 346.2C1289.8 346.0 1291.0 346.3 1291.9 346.2C1292.8 346.0 1293.6 346.1 1294.2 345.2C1294.9 344.4 1295.3 342.2 1296.0 341.1C1296.7 340.1 1297.5 339.4 1298.4 338.8C1299.2 338.1 1300.5 338.0 1301.3 337.3C1302.1 336.5 1302.6 335.4 1303.3 334.1C1304.0 332.8 1304.7 330.6 1305.4 329.4C1306.2 328.2 1307.0 327.3 1307.8 326.8C1308.5 326.3 1309.4 326.2 1310.1 326.2C1310.8 326.3 1311.3 326.1 1311.9 327.0C1312.5 328.0 1313.0 330.5 1313.6 331.7C1314.3 333.0 1315.1 333.8 1316.0 334.3C1316.9 334.9 1318.1 335.1 1318.9 335.0C1319.7 335.0 1320.3 335.1 1320.9 334.1C1321.5 333.1 1321.9 330.8 1322.5 328.8C1323.0 326.8 1323.4 324.0 1324.2 322.3C1325.0 320.7 1326.2 320.0 1327.2 318.8C1328.1 317.6 1328.9 317.4 1329.8 315.3C1330.8 313.2 1332.0 308.9 1332.9 306.4C1333.8 303.9 1334.6 301.9 1335.3 300.5C1336.0 299.2 1336.5 298.4 1337.0 298.2C1337.6 297.9 1338.1 298.1 1338.6 299.1C1339.1 300.1 1339.5 302.6 1340.0 304.1C1340.5 305.5 1340.9 307.2 1341.4 307.8C1341.9 308.4 1342.4 308.6 1342.9 307.6C1343.5 306.6 1344.0 303.5 1344.7 301.7C1345.4 299.9 1346.2 298.2 1347.0 297.0C1347.9 295.8 1349.1 294.8 1350.0 294.4C1350.8 294.0 1351.3 294.2 1352.0 294.6C1352.6 295.1 1353.4 296.4 1354.1 297.0C1354.7 297.6 1355.2 298.3 1355.8 298.2C1356.5 298.1 1357.3 297.3 1358.2 296.4C1359.1 295.5 1360.2 293.9 1361.1 292.9C1362.1 291.9 1363.0 290.8 1363.7 290.5C1364.5 290.2 1365.0 290.4 1365.6 291.1C1366.1 291.8 1366.5 293.6 1367.0 294.6C1367.5 295.7 1367.9 297.1 1368.4 297.4C1369.0 297.7 1369.6 297.2 1370.3 296.4C1370.9 295.6 1371.7 293.3 1372.3 292.5C1372.9 291.8 1373.4 291.5 1374.0 291.7C1374.7 292.0 1375.4 293.0 1376.2 294.1C1377.0 295.1 1377.8 296.7 1378.8 298.2C1379.7 299.6 1380.7 301.6 1381.7 302.9C1382.7 304.1 1383.7 305.0 1384.6 305.6C1385.6 306.1 1386.5 306.4 1387.2 306.2C1387.9 305.9 1388.2 305.5 1388.7 304.1C1389.2 302.6 1389.6 299.4 1390.3 297.6C1390.9 295.7 1391.8 294.0 1392.6 292.9C1393.4 291.8 1394.3 291.4 1395.2 291.1C1396.1 290.9 1397.2 291.2 1398.1 291.4C1399.1 291.6 1400.0 292.4 1400.8 292.3C1401.7 292.2 1402.5 291.1 1403.4 290.5C1404.4 290.0 1405.4 289.1 1406.4 288.8C1407.3 288.4 1408.5 288.3 1409.3 288.4C1410.1 288.5 1410.5 288.4 1411.1 289.4C1411.7 290.3 1412.1 292.6 1412.8 294.1C1413.5 295.5 1414.3 297.1 1415.2 298.2C1416.1 299.2 1417.1 300.0 1418.1 300.3C1419.1 300.6 1420.1 300.3 1421.1 299.9C1422.0 299.5 1423.1 298.9 1424.0 297.9C1424.9 297.0 1425.6 295.1 1426.3 294.4C1427.1 293.8 1427.8 294.0 1428.7 294.1C1429.6 294.2 1430.6 294.7 1431.6 295.0C1432.7 295.4 1434.2 296.0 1435.2 296.2C1436.1 296.4 1436.8 296.8 1437.5 296.2C1438.2 295.5 1438.6 293.9 1439.3 292.3C1440.0 290.7 1440.7 288.2 1441.6 286.4C1442.5 284.6 1443.6 283.4 1444.6 281.5C1445.5 279.6 1446.6 276.9 1447.5 275.3C1448.4 273.6 1449.2 272.6 1450.2 271.7C1451.2 270.9 1452.4 270.9 1453.4 270.0C1454.4 269.1 1455.4 267.1 1456.3 266.2C1457.2 265.3 1457.9 264.6 1458.7 264.4C1459.4 264.3 1460.2 264.9 1461.0 265.3C1461.8 265.6 1462.5 266.6 1463.4 266.4C1464.2 266.3 1465.4 264.6 1466.3 264.1C1467.2 263.6 1467.9 263.5 1468.7 263.5C1469.4 263.5 1470.3 263.6 1471.0 264.1C1471.7 264.6 1472.2 264.9 1472.8 266.4C1473.3 268.0 1473.8 270.4 1474.2 273.5C1474.6 276.6 1474.8 282.2 1475.1 285.2C1475.4 288.3 1475.7 290.6 1476.0 291.7C1476.4 292.8 1477.0 292.7 1477.5 291.7C1477.9 290.7 1478.4 287.4 1478.9 285.8C1479.4 284.3 1479.9 283.0 1480.4 282.3C1480.9 281.6 1481.5 281.4 1482.2 281.7C1482.8 282.0 1483.7 283.0 1484.5 284.1C1485.3 285.2 1486.1 286.8 1486.9 288.2C1487.6 289.6 1488.5 291.7 1489.2 292.5C1489.9 293.4 1490.3 293.8 1491.0 293.5C1491.7 293.1 1492.6 291.2 1493.3 290.5C1494.0 289.9 1494.5 289.4 1495.1 289.7C1495.7 290.0 1496.2 291.4 1496.8 292.3C1497.5 293.2 1498.3 294.8 1498.8 295.2C1499.4 295.7 1499.6 295.9 1500.4 295.2C1501.1 294.6 1502.3 292.3 1503.3 291.1C1504.3 290.0 1505.4 289.2 1506.2 288.2C1507.1 287.2 1507.9 286.7 1508.6 285.2C1509.3 283.8 1509.8 280.9 1510.4 279.4C1510.9 277.9 1511.6 276.5 1512.1 276.1C1512.7 275.7 1513.1 276.1 1513.7 276.8C1514.2 277.4 1514.7 279.2 1515.7 280.0C1516.6 280.7 1517.9 280.8 1519.1 281.1C1520.3 281.4 1521.6 281.4 1522.6 281.8C1523.7 282.1 1524.8 282.4 1525.6 283.2C1526.3 284.0 1526.7 284.9 1527.3 286.7C1527.9 288.5 1528.5 291.7 1529.1 293.8C1529.7 295.8 1530.1 297.9 1530.8 299.0C1531.6 300.2 1532.9 300.2 1533.8 300.8C1534.7 301.4 1535.4 301.6 1536.1 302.6C1536.9 303.5 1537.5 305.5 1538.1 306.4C1538.8 307.4 1539.5 308.5 1540.0 308.4C1540.6 308.4 1541.0 307.5 1541.4 306.1C1541.9 304.7 1542.3 301.6 1542.8 300.2C1543.3 298.9 1543.9 298.1 1544.4 298.1C1544.9 298.1 1545.4 298.9 1545.9 300.2C1546.4 301.6 1546.9 304.6 1547.5 306.1C1548.2 307.6 1548.7 308.2 1549.7 309.0C1550.6 309.8 1552.2 310.0 1553.2 310.8C1554.2 311.6 1554.8 312.8 1555.5 313.7C1556.2 314.7 1556.7 316.3 1557.3 316.7C1557.8 317.1 1558.4 317.2 1558.8 316.1C1559.3 315.0 1559.6 312.6 1560.0 310.2C1560.4 307.9 1560.7 303.6 1561.2 302.0C1561.6 300.3 1562.1 300.0 1562.6 300.2C1563.0 300.4 1563.3 301.7 1563.8 303.2C1564.2 304.6 1564.6 307.8 1565.2 309.0C1565.7 310.3 1566.2 310.6 1567.0 310.8C1567.9 310.9 1569.1 310.6 1570.2 310.0C1571.3 309.4 1572.3 308.6 1573.7 307.3C1575.2 305.9 1577.6 304.0 1579.0 302.0C1580.5 299.9 1581.5 297.1 1582.6 294.9C1583.6 292.8 1584.5 290.5 1585.5 289.1C1586.5 287.6 1587.5 286.8 1588.4 286.5C1589.4 286.1 1590.4 286.7 1591.4 286.9C1592.3 287.1 1593.2 287.7 1594.3 287.6C1595.4 287.6 1596.7 287.1 1597.8 286.7C1599.0 286.2 1600.4 285.7 1601.4 284.9C1602.3 284.2 1603.0 283.2 1603.7 282.0C1604.4 280.8 1604.9 278.8 1605.5 277.9C1606.1 277.0 1606.2 276.6 1607.2 276.5C1608.3 276.3 1610.4 276.9 1611.9 277.1C1613.5 277.2 1615.2 277.1 1616.6 277.3C1618.1 277.5 1619.7 278.2 1620.8 278.2C1621.8 278.2 1622.4 277.6 1623.1 277.3C1623.8 277.0 1624.4 276.2 1625.1 276.4C1625.7 276.5 1626.3 277.3 1627.0 278.2C1627.6 279.2 1628.1 281.0 1629.0 282.0C1629.8 283.0 1631.0 283.7 1631.9 284.1C1632.8 284.6 1633.6 284.8 1634.3 284.6C1634.9 284.3 1635.3 284.0 1636.0 282.6C1636.7 281.2 1637.5 278.2 1638.4 276.1C1639.3 274.1 1640.3 271.7 1641.3 270.2C1642.3 268.8 1643.2 268.3 1644.2 267.7C1645.3 267.1 1646.6 267.0 1647.8 266.7C1648.9 266.4 1650.2 265.8 1651.3 265.8C1652.4 265.8 1653.2 266.1 1654.2 266.5C1655.3 266.9 1656.6 267.8 1657.8 268.2C1658.9 268.7 1660.2 269.1 1661.3 269.1C1662.4 269.1 1663.3 268.9 1664.2 268.2C1665.1 267.6 1665.9 266.6 1666.6 265.0C1667.2 263.3 1667.6 260.1 1668.1 258.5C1668.6 256.9 1668.9 256.1 1669.5 255.6C1670.1 255.0 1671.0 254.8 1671.9 255.0C1672.7 255.1 1673.9 255.6 1674.8 256.4C1675.7 257.2 1676.7 259.0 1677.5 259.7C1678.3 260.4 1678.7 260.7 1679.5 260.5C1680.3 260.3 1681.4 259.2 1682.4 258.5C1683.5 257.8 1684.8 257.0 1686.0 256.4C1687.1 255.8 1688.4 255.2 1689.5 254.7C1690.6 254.3 1691.5 253.6 1692.4 253.6C1693.4 253.5 1694.5 254.0 1695.4 254.4C1696.2 254.8 1697.0 255.7 1697.4 255.9" fill="none" stroke="#42464f" stroke-width="1.45" stroke-linejoin="round" stroke-linecap="round"/>
<rect x="90" y="694" width="1613.5" height="10.4" fill="#e0e4f0"/>
<rect x="90" y="704.4" width="1613.5" height="44.1" fill="#e7effd"/>
<path d="M90.0 739.6C91.7 739.6 97.1 739.4 100.1 739.4C103.0 739.3 105.6 739.1 107.7 739.0C109.8 739.0 110.4 739.2 112.8 739.2C115.1 739.2 118.9 739.1 121.8 739.1C124.8 739.0 127.7 739.0 130.7 739.0C133.6 739.0 136.5 738.9 139.5 739.0C142.6 739.0 146.0 739.1 148.9 739.0C151.8 739.0 154.0 738.9 156.8 738.9C159.7 738.9 162.5 738.9 166.0 738.8C169.5 738.7 174.5 738.4 177.8 738.3C181.1 738.2 183.8 738.0 186.0 738.0C188.3 738.0 189.3 738.3 191.4 738.4C193.4 738.5 195.8 738.6 198.4 738.6C201.1 738.6 204.3 738.6 207.3 738.5C210.2 738.4 213.1 738.0 216.1 738.0C219.0 737.9 221.9 738.0 224.9 738.1C228.0 738.1 230.9 738.1 234.3 738.1C237.8 738.1 242.6 738.0 245.5 738.1C248.5 738.1 249.9 738.4 252.0 738.5C254.1 738.5 255.8 738.3 257.9 738.3C260.0 738.3 261.6 738.4 264.4 738.4C267.1 738.4 271.1 738.2 274.4 738.1C277.7 738.1 281.7 738.2 284.0 738.2C286.3 738.1 285.9 737.8 288.2 737.7C290.4 737.6 294.6 737.7 297.6 737.7C300.6 737.7 304.2 737.7 306.4 737.7C308.6 737.8 309.1 738.0 310.8 738.1C312.5 738.1 314.7 737.9 316.4 738.0C318.2 738.0 319.2 738.2 321.2 738.2C323.1 738.2 326.0 738.0 328.2 737.9C330.4 737.8 332.6 737.7 334.3 737.6C336.1 737.4 337.0 737.2 338.6 737.1C340.2 737.1 342.0 737.3 344.1 737.3C346.3 737.2 349.2 737.1 351.5 737.0C353.9 737.0 356.0 737.0 358.3 737.0C360.6 737.0 363.7 737.1 365.3 736.8C366.9 736.5 366.8 735.5 367.8 735.2C368.8 734.9 369.9 735.1 371.2 735.1C372.6 735.1 374.3 735.3 375.9 735.1C377.6 735.0 378.9 734.3 381.2 734.1C383.6 733.9 387.8 734.1 390.1 733.9C392.3 733.8 393.7 733.5 394.9 733.4C396.1 733.2 396.7 732.9 397.5 733.1C398.3 733.3 398.8 734.5 399.9 734.7C400.9 735.0 402.3 734.4 403.7 734.4C405.2 734.4 406.8 734.7 408.4 734.7C410.1 734.7 411.8 734.6 413.5 734.4C415.2 734.3 417.0 733.8 418.7 733.7C420.4 733.6 421.5 734.1 423.8 734.1C426.1 734.1 430.4 734.0 432.6 733.8C434.8 733.5 434.7 732.9 436.7 732.7C438.8 732.6 442.8 732.8 445.0 733.0C447.1 733.3 448.2 734.2 449.7 734.4C451.1 734.5 451.8 734.0 453.6 733.8C455.3 733.6 458.3 733.3 460.3 733.1C462.3 732.9 463.7 732.5 465.4 732.5C467.0 732.5 468.2 733.0 470.3 733.2C472.4 733.3 475.4 733.4 478.0 733.4C480.5 733.3 482.9 733.0 485.6 732.9C488.4 732.9 492.1 733.1 494.5 733.1C496.8 733.0 497.7 732.9 499.7 732.5C501.8 732.2 504.5 731.2 506.8 730.9C509.2 730.6 511.7 730.8 513.9 730.8C516.0 730.8 517.6 730.7 519.8 730.7C521.9 730.8 524.6 731.1 526.8 730.9C529.1 730.8 531.4 730.1 533.3 729.9C535.3 729.8 536.5 730.0 538.6 730.0C540.8 730.0 543.4 730.1 546.3 730.0C549.1 729.9 553.3 729.6 555.7 729.6C558.1 729.6 558.5 730.0 560.4 730.1C562.4 730.1 565.1 730.0 567.5 729.8C569.8 729.6 572.2 729.3 574.5 729.1C576.7 728.8 579.0 728.4 580.9 728.4C582.9 728.4 584.1 728.8 585.9 729.0C587.7 729.2 590.2 729.2 591.5 729.6C592.9 729.9 592.5 731.0 593.9 731.2C595.3 731.5 597.8 730.8 599.8 730.9C601.8 730.9 604.1 731.2 605.7 731.4C607.2 731.7 607.8 732.3 609.2 732.4C610.6 732.5 612.8 732.0 614.2 732.1C615.5 732.2 615.9 732.9 617.5 732.9C619.0 732.9 620.8 732.3 623.4 732.0C625.9 731.8 630.2 731.4 632.8 731.4C635.4 731.4 637.0 732.0 638.9 732.0C640.8 732.0 641.8 731.6 644.0 731.4C646.1 731.1 649.6 730.8 651.6 730.6C653.6 730.3 653.9 730.0 656.1 729.9C658.3 729.7 661.8 729.9 664.6 729.9C667.4 729.9 670.3 730.0 672.8 729.9C675.3 729.8 677.7 729.3 679.7 729.3C681.6 729.3 682.0 729.7 684.4 729.8C686.8 729.9 691.2 729.9 694.0 729.9C696.8 730.0 698.8 729.9 701.1 729.8C703.4 729.8 705.3 729.6 707.6 729.7C709.8 729.7 712.5 729.8 714.6 729.9C716.7 730.1 718.3 730.5 720.2 730.6C722.0 730.7 724.2 730.4 725.8 730.5C727.5 730.7 728.1 731.3 730.0 731.3C731.8 731.4 734.4 730.9 737.0 730.7C739.7 730.6 743.5 730.6 745.9 730.4C748.2 730.3 749.3 729.9 751.2 729.8C753.1 729.7 755.2 729.9 757.3 729.7C759.4 729.5 761.6 729.0 763.8 728.7C765.9 728.3 768.3 727.8 770.2 727.7C772.2 727.6 773.4 728.2 775.5 728.2C777.7 728.3 780.6 727.8 783.2 727.8C785.8 727.8 788.4 728.1 790.9 728.1C793.3 728.1 795.8 728.0 797.9 727.9C800.1 727.8 801.7 727.6 803.8 727.4C805.9 727.3 808.0 727.3 810.3 727.2C812.6 727.2 815.3 727.4 817.6 727.0C819.9 726.7 821.6 725.5 823.8 725.2C826.1 725.0 828.9 725.3 830.9 725.4C832.9 725.6 834.3 726.0 836.0 726.2C837.6 726.4 839.3 726.5 840.9 726.7C842.5 726.9 844.2 727.3 845.6 727.4C847.1 727.5 848.1 727.7 849.8 727.3C851.4 727.0 854.0 725.2 855.6 725.2C857.3 725.2 858.2 727.0 859.5 727.3C860.9 727.5 862.2 726.7 863.9 726.7C865.6 726.7 868.2 727.3 869.8 727.1C871.4 726.9 871.5 725.9 873.7 725.4C875.8 725.0 879.7 724.7 882.7 724.3C885.8 723.9 889.1 723.5 892.2 723.1C895.2 722.8 898.4 722.9 901.0 722.4C903.6 721.8 905.1 720.5 907.5 720.0C909.8 719.4 912.2 719.4 915.0 719.2C917.8 719.0 921.7 719.2 924.4 718.6C927.2 718.0 929.2 716.5 931.5 715.8C933.8 715.0 936.0 714.3 938.0 714.1C939.9 713.9 941.7 714.7 943.3 714.5C944.9 714.3 945.8 712.7 947.6 712.9C949.5 713.0 951.9 715.0 954.5 715.4C957.1 715.9 960.9 715.1 963.3 715.5C965.8 716.0 967.1 717.4 969.2 718.0C971.3 718.6 973.9 718.4 975.9 719.3C978.0 720.2 979.5 722.5 981.6 723.3C983.6 724.1 986.4 723.5 988.0 724.0C989.7 724.6 990.1 726.2 991.7 726.7C993.3 727.3 995.5 727.7 997.6 727.3C999.6 726.9 1001.8 725.4 1003.8 724.6C1005.8 723.8 1007.3 722.5 1009.3 722.4C1011.4 722.3 1013.0 723.4 1015.8 723.9C1018.7 724.4 1023.4 725.1 1026.4 725.3C1029.5 725.4 1031.7 725.1 1034.1 724.9C1036.4 724.6 1038.6 724.1 1040.6 723.8C1042.5 723.4 1044.2 722.8 1045.9 722.9C1047.5 723.0 1048.8 724.2 1050.2 724.2C1051.7 724.2 1052.7 723.2 1054.5 723.1C1056.2 723.0 1058.8 723.5 1060.6 723.6C1062.4 723.7 1063.6 723.5 1065.3 723.8C1067.0 724.0 1068.4 724.8 1070.6 725.0C1072.8 725.2 1075.8 724.6 1078.3 724.8C1080.7 725.0 1082.7 726.0 1085.1 726.2C1087.5 726.4 1090.3 726.2 1092.6 725.9C1095.0 725.6 1096.7 724.3 1099.2 724.2C1101.7 724.1 1104.7 724.8 1107.7 725.3C1110.7 725.7 1114.3 726.3 1117.1 726.7C1120.0 727.1 1122.4 727.4 1124.8 727.8C1127.1 728.1 1129.3 728.7 1131.3 728.9C1133.2 729.0 1134.7 728.4 1136.6 728.4C1138.4 728.5 1140.6 728.7 1142.5 728.9C1144.3 729.1 1146.0 729.6 1147.5 729.7C1149.0 729.9 1149.4 730.2 1151.5 729.9C1153.6 729.5 1156.9 728.2 1160.1 727.8C1163.3 727.4 1167.9 727.4 1170.7 727.4C1173.6 727.5 1175.0 728.2 1177.1 728.0C1179.2 727.8 1181.3 726.5 1183.4 726.3C1185.5 726.0 1187.3 726.6 1189.7 726.6C1192.1 726.5 1195.7 725.8 1197.7 725.9C1199.8 726.0 1200.1 726.6 1202.2 726.9C1204.4 727.2 1208.0 727.5 1210.7 727.6C1213.4 727.7 1216.2 727.7 1218.4 727.7C1220.5 727.7 1221.7 727.4 1223.7 727.7C1225.6 727.9 1228.0 729.0 1230.1 729.1C1232.3 729.3 1234.1 728.8 1236.4 728.8C1238.6 728.8 1241.6 729.3 1243.7 729.3C1245.7 729.3 1246.8 728.7 1248.6 728.7C1250.5 728.8 1252.9 729.6 1254.9 729.8C1256.8 729.9 1258.2 730.0 1260.4 729.7C1262.7 729.5 1265.4 728.6 1268.4 728.2C1271.4 727.8 1275.8 727.7 1278.4 727.3C1281.1 727.0 1282.6 726.3 1284.3 726.2C1286.0 726.2 1287.0 727.0 1288.7 727.0C1290.4 727.1 1292.2 726.6 1294.3 726.4C1296.5 726.2 1299.0 726.1 1301.4 725.9C1303.8 725.7 1306.4 725.4 1308.7 725.1C1311.1 724.8 1313.4 724.2 1315.5 724.2C1317.7 724.2 1319.4 725.1 1321.4 725.2C1323.5 725.2 1325.6 724.9 1327.9 724.5C1330.2 724.2 1332.9 723.6 1335.3 722.9C1337.8 722.2 1340.6 720.8 1342.5 720.6C1344.5 720.5 1345.2 722.0 1346.9 721.9C1348.6 721.9 1350.4 720.7 1352.6 720.5C1354.7 720.2 1357.3 720.6 1359.6 720.5C1362.0 720.4 1364.5 719.9 1366.7 719.9C1368.9 719.8 1370.7 720.1 1372.6 720.1C1374.4 720.1 1375.9 719.7 1377.9 719.8C1379.8 719.9 1381.9 720.3 1384.4 720.6C1386.9 720.9 1390.5 721.8 1392.8 721.7C1395.2 721.6 1396.0 720.2 1398.3 719.9C1400.5 719.5 1403.7 719.9 1406.5 719.8C1409.3 719.7 1412.6 719.1 1415.0 719.2C1417.4 719.3 1418.4 720.4 1420.9 720.6C1423.3 720.8 1427.0 720.7 1429.7 720.6C1432.5 720.5 1434.8 720.3 1437.4 720.2C1439.9 720.0 1442.4 720.3 1445.0 719.8C1447.7 719.3 1450.4 717.8 1453.3 717.1C1456.1 716.4 1459.5 715.9 1462.1 715.6C1464.8 715.4 1466.7 715.7 1469.2 715.7C1471.6 715.6 1474.9 714.7 1476.8 715.2C1478.8 715.8 1479.6 718.1 1481.0 718.7C1482.3 719.3 1483.2 718.8 1484.7 718.8C1486.3 718.8 1488.4 718.3 1490.4 718.5C1492.4 718.7 1494.8 719.7 1496.9 719.9C1498.9 720.2 1500.7 719.8 1502.8 719.8C1504.8 719.7 1507.0 719.9 1509.2 719.6C1511.5 719.3 1514.2 718.1 1516.3 717.8C1518.4 717.5 1519.1 717.8 1521.6 717.9C1524.1 718.0 1529.0 717.9 1531.5 718.4C1534.1 718.9 1534.7 720.2 1536.8 720.7C1538.9 721.3 1542.1 721.7 1544.1 721.8C1546.1 721.8 1547.3 720.9 1548.9 720.9C1550.4 720.9 1551.4 721.4 1553.6 721.7C1555.7 722.0 1559.5 722.6 1561.6 722.7C1563.7 722.8 1564.7 722.5 1566.0 722.2C1567.4 722.0 1568.1 721.3 1569.8 721.3C1571.5 721.3 1573.2 722.4 1576.3 722.2C1579.4 722.0 1585.1 720.7 1588.7 720.2C1592.2 719.6 1594.4 719.2 1597.5 719.0C1600.6 718.7 1604.9 718.9 1607.5 718.7C1610.2 718.4 1610.2 717.5 1613.4 717.3C1616.6 717.2 1623.7 717.6 1627.0 717.6C1630.3 717.7 1630.9 717.5 1633.2 717.6C1635.5 717.8 1638.1 718.8 1640.5 718.6C1642.9 718.4 1644.7 716.8 1647.6 716.3C1650.4 715.8 1654.2 715.6 1657.6 715.5C1660.9 715.5 1664.8 716.3 1667.6 716.1C1670.4 715.9 1672.2 714.6 1674.4 714.2C1676.7 713.9 1678.7 713.8 1681.1 713.8C1683.5 713.8 1685.9 714.3 1688.8 714.2C1691.7 714.1 1696.3 713.4 1698.8 713.3C1701.3 713.2 1702.9 713.7 1703.8 713.8L1703.5 748.5L90.0 748.5Z" fill="#d5e2fb"/>
<path d="M90.0 739.6C91.7 739.6 97.1 739.4 100.1 739.4C103.0 739.3 105.6 739.1 107.7 739.0C109.8 739.0 110.4 739.2 112.8 739.2C115.1 739.2 118.9 739.1 121.8 739.1C124.8 739.0 127.7 739.0 130.7 739.0C133.6 739.0 136.5 738.9 139.5 739.0C142.6 739.0 146.0 739.1 148.9 739.0C151.8 739.0 154.0 738.9 156.8 738.9C159.7 738.9 162.5 738.9 166.0 738.8C169.5 738.7 174.5 738.4 177.8 738.3C181.1 738.2 183.8 738.0 186.0 738.0C188.3 738.0 189.3 738.3 191.4 738.4C193.4 738.5 195.8 738.6 198.4 738.6C201.1 738.6 204.3 738.6 207.3 738.5C210.2 738.4 213.1 738.0 216.1 738.0C219.0 737.9 221.9 738.0 224.9 738.1C228.0 738.1 230.9 738.1 234.3 738.1C237.8 738.1 242.6 738.0 245.5 738.1C248.5 738.1 249.9 738.4 252.0 738.5C254.1 738.5 255.8 738.3 257.9 738.3C260.0 738.3 261.6 738.4 264.4 738.4C267.1 738.4 271.1 738.2 274.4 738.1C277.7 738.1 281.7 738.2 284.0 738.2C286.3 738.1 285.9 737.8 288.2 737.7C290.4 737.6 294.6 737.7 297.6 737.7C300.6 737.7 304.2 737.7 306.4 737.7C308.6 737.8 309.1 738.0 310.8 738.1C312.5 738.1 314.7 737.9 316.4 738.0C318.2 738.0 319.2 738.2 321.2 738.2C323.1 738.2 326.0 738.0 328.2 737.9C330.4 737.8 332.6 737.7 334.3 737.6C336.1 737.4 337.0 737.2 338.6 737.1C340.2 737.1 342.0 737.3 344.1 737.3C346.3 737.2 349.2 737.1 351.5 737.0C353.9 737.0 356.0 737.0 358.3 737.0C360.6 737.0 363.7 737.1 365.3 736.8C366.9 736.5 366.8 735.5 367.8 735.2C368.8 734.9 369.9 735.1 371.2 735.1C372.6 735.1 374.3 735.3 375.9 735.1C377.6 735.0 378.9 734.3 381.2 734.1C383.6 733.9 387.8 734.1 390.1 733.9C392.3 733.8 393.7 733.5 394.9 733.4C396.1 733.2 396.7 732.9 397.5 733.1C398.3 733.3 398.8 734.5 399.9 734.7C400.9 735.0 402.3 734.4 403.7 734.4C405.2 734.4 406.8 734.7 408.4 734.7C410.1 734.7 411.8 734.6 413.5 734.4C415.2 734.3 417.0 733.8 418.7 733.7C420.4 733.6 421.5 734.1 423.8 734.1C426.1 734.1 430.4 734.0 432.6 733.8C434.8 733.5 434.7 732.9 436.7 732.7C438.8 732.6 442.8 732.8 445.0 733.0C447.1 733.3 448.2 734.2 449.7 734.4C451.1 734.5 451.8 734.0 453.6 733.8C455.3 733.6 458.3 733.3 460.3 733.1C462.3 732.9 463.7 732.5 465.4 732.5C467.0 732.5 468.2 733.0 470.3 733.2C472.4 733.3 475.4 733.4 478.0 733.4C480.5 733.3 482.9 733.0 485.6 732.9C488.4 732.9 492.1 733.1 494.5 733.1C496.8 733.0 497.7 732.9 499.7 732.5C501.8 732.2 504.5 731.2 506.8 730.9C509.2 730.6 511.7 730.8 513.9 730.8C516.0 730.8 517.6 730.7 519.8 730.7C521.9 730.8 524.6 731.1 526.8 730.9C529.1 730.8 531.4 730.1 533.3 729.9C535.3 729.8 536.5 730.0 538.6 730.0C540.8 730.0 543.4 730.1 546.3 730.0C549.1 729.9 553.3 729.6 555.7 729.6C558.1 729.6 558.5 730.0 560.4 730.1C562.4 730.1 565.1 730.0 567.5 729.8C569.8 729.6 572.2 729.3 574.5 729.1C576.7 728.8 579.0 728.4 580.9 728.4C582.9 728.4 584.1 728.8 585.9 729.0C587.7 729.2 590.2 729.2 591.5 729.6C592.9 729.9 592.5 731.0 593.9 731.2C595.3 731.5 597.8 730.8 599.8 730.9C601.8 730.9 604.1 731.2 605.7 731.4C607.2 731.7 607.8 732.3 609.2 732.4C610.6 732.5 612.8 732.0 614.2 732.1C615.5 732.2 615.9 732.9 617.5 732.9C619.0 732.9 620.8 732.3 623.4 732.0C625.9 731.8 630.2 731.4 632.8 731.4C635.4 731.4 637.0 732.0 638.9 732.0C640.8 732.0 641.8 731.6 644.0 731.4C646.1 731.1 649.6 730.8 651.6 730.6C653.6 730.3 653.9 730.0 656.1 729.9C658.3 729.7 661.8 729.9 664.6 729.9C667.4 729.9 670.3 730.0 672.8 729.9C675.3 729.8 677.7 729.3 679.7 729.3C681.6 729.3 682.0 729.7 684.4 729.8C686.8 729.9 691.2 729.9 694.0 729.9C696.8 730.0 698.8 729.9 701.1 729.8C703.4 729.8 705.3 729.6 707.6 729.7C709.8 729.7 712.5 729.8 714.6 729.9C716.7 730.1 718.3 730.5 720.2 730.6C722.0 730.7 724.2 730.4 725.8 730.5C727.5 730.7 728.1 731.3 730.0 731.3C731.8 731.4 734.4 730.9 737.0 730.7C739.7 730.6 743.5 730.6 745.9 730.4C748.2 730.3 749.3 729.9 751.2 729.8C753.1 729.7 755.2 729.9 757.3 729.7C759.4 729.5 761.6 729.0 763.8 728.7C765.9 728.3 768.3 727.8 770.2 727.7C772.2 727.6 773.4 728.2 775.5 728.2C777.7 728.3 780.6 727.8 783.2 727.8C785.8 727.8 788.4 728.1 790.9 728.1C793.3 728.1 795.8 728.0 797.9 727.9C800.1 727.8 801.7 727.6 803.8 727.4C805.9 727.3 808.0 727.3 810.3 727.2C812.6 727.2 815.3 727.4 817.6 727.0C819.9 726.7 821.6 725.5 823.8 725.2C826.1 725.0 828.9 725.3 830.9 725.4C832.9 725.6 834.3 726.0 836.0 726.2C837.6 726.4 839.3 726.5 840.9 726.7C842.5 726.9 844.2 727.3 845.6 727.4C847.1 727.5 848.1 727.7 849.8 727.3C851.4 727.0 854.0 725.2 855.6 725.2C857.3 725.2 858.2 727.0 859.5 727.3C860.9 727.5 862.2 726.7 863.9 726.7C865.6 726.7 868.2 727.3 869.8 727.1C871.4 726.9 871.5 725.9 873.7 725.4C875.8 725.0 879.7 724.7 882.7 724.3C885.8 723.9 889.1 723.5 892.2 723.1C895.2 722.8 898.4 722.9 901.0 722.4C903.6 721.8 905.1 720.5 907.5 720.0C909.8 719.4 912.2 719.4 915.0 719.2C917.8 719.0 921.7 719.2 924.4 718.6C927.2 718.0 929.2 716.5 931.5 715.8C933.8 715.0 936.0 714.3 938.0 714.1C939.9 713.9 941.7 714.7 943.3 714.5C944.9 714.3 945.8 712.7 947.6 712.9C949.5 713.0 951.9 715.0 954.5 715.4C957.1 715.9 960.9 715.1 963.3 715.5C965.8 716.0 967.1 717.4 969.2 718.0C971.3 718.6 973.9 718.4 975.9 719.3C978.0 720.2 979.5 722.5 981.6 723.3C983.6 724.1 986.4 723.5 988.0 724.0C989.7 724.6 990.1 726.2 991.7 726.7C993.3 727.3 995.5 727.7 997.6 727.3C999.6 726.9 1001.8 725.4 1003.8 724.6C1005.8 723.8 1007.3 722.5 1009.3 722.4C1011.4 722.3 1013.0 723.4 1015.8 723.9C1018.7 724.4 1023.4 725.1 1026.4 725.3C1029.5 725.4 1031.7 725.1 1034.1 724.9C1036.4 724.6 1038.6 724.1 1040.6 723.8C1042.5 723.4 1044.2 722.8 1045.9 722.9C1047.5 723.0 1048.8 724.2 1050.2 724.2C1051.7 724.2 1052.7 723.2 1054.5 723.1C1056.2 723.0 1058.8 723.5 1060.6 723.6C1062.4 723.7 1063.6 723.5 1065.3 723.8C1067.0 724.0 1068.4 724.8 1070.6 725.0C1072.8 725.2 1075.8 724.6 1078.3 724.8C1080.7 725.0 1082.7 726.0 1085.1 726.2C1087.5 726.4 1090.3 726.2 1092.6 725.9C1095.0 725.6 1096.7 724.3 1099.2 724.2C1101.7 724.1 1104.7 724.8 1107.7 725.3C1110.7 725.7 1114.3 726.3 1117.1 726.7C1120.0 727.1 1122.4 727.4 1124.8 727.8C1127.1 728.1 1129.3 728.7 1131.3 728.9C1133.2 729.0 1134.7 728.4 1136.6 728.4C1138.4 728.5 1140.6 728.7 1142.5 728.9C1144.3 729.1 1146.0 729.6 1147.5 729.7C1149.0 729.9 1149.4 730.2 1151.5 729.9C1153.6 729.5 1156.9 728.2 1160.1 727.8C1163.3 727.4 1167.9 727.4 1170.7 727.4C1173.6 727.5 1175.0 728.2 1177.1 728.0C1179.2 727.8 1181.3 726.5 1183.4 726.3C1185.5 726.0 1187.3 726.6 1189.7 726.6C1192.1 726.5 1195.7 725.8 1197.7 725.9C1199.8 726.0 1200.1 726.6 1202.2 726.9C1204.4 727.2 1208.0 727.5 1210.7 727.6C1213.4 727.7 1216.2 727.7 1218.4 727.7C1220.5 727.7 1221.7 727.4 1223.7 727.7C1225.6 727.9 1228.0 729.0 1230.1 729.1C1232.3 729.3 1234.1 728.8 1236.4 728.8C1238.6 728.8 1241.6 729.3 1243.7 729.3C1245.7 729.3 1246.8 728.7 1248.6 728.7C1250.5 728.8 1252.9 729.6 1254.9 729.8C1256.8 729.9 1258.2 730.0 1260.4 729.7C1262.7 729.5 1265.4 728.6 1268.4 728.2C1271.4 727.8 1275.8 727.7 1278.4 727.3C1281.1 727.0 1282.6 726.3 1284.3 726.2C1286.0 726.2 1287.0 727.0 1288.7 727.0C1290.4 727.1 1292.2 726.6 1294.3 726.4C1296.5 726.2 1299.0 726.1 1301.4 725.9C1303.8 725.7 1306.4 725.4 1308.7 725.1C1311.1 724.8 1313.4 724.2 1315.5 724.2C1317.7 724.2 1319.4 725.1 1321.4 725.2C1323.5 725.2 1325.6 724.9 1327.9 724.5C1330.2 724.2 1332.9 723.6 1335.3 722.9C1337.8 722.2 1340.6 720.8 1342.5 720.6C1344.5 720.5 1345.2 722.0 1346.9 721.9C1348.6 721.9 1350.4 720.7 1352.6 720.5C1354.7 720.2 1357.3 720.6 1359.6 720.5C1362.0 720.4 1364.5 719.9 1366.7 719.9C1368.9 719.8 1370.7 720.1 1372.6 720.1C1374.4 720.1 1375.9 719.7 1377.9 719.8C1379.8 719.9 1381.9 720.3 1384.4 720.6C1386.9 720.9 1390.5 721.8 1392.8 721.7C1395.2 721.6 1396.0 720.2 1398.3 719.9C1400.5 719.5 1403.7 719.9 1406.5 719.8C1409.3 719.7 1412.6 719.1 1415.0 719.2C1417.4 719.3 1418.4 720.4 1420.9 720.6C1423.3 720.8 1427.0 720.7 1429.7 720.6C1432.5 720.5 1434.8 720.3 1437.4 720.2C1439.9 720.0 1442.4 720.3 1445.0 719.8C1447.7 719.3 1450.4 717.8 1453.3 717.1C1456.1 716.4 1459.5 715.9 1462.1 715.6C1464.8 715.4 1466.7 715.7 1469.2 715.7C1471.6 715.6 1474.9 714.7 1476.8 715.2C1478.8 715.8 1479.6 718.1 1481.0 718.7C1482.3 719.3 1483.2 718.8 1484.7 718.8C1486.3 718.8 1488.4 718.3 1490.4 718.5C1492.4 718.7 1494.8 719.7 1496.9 719.9C1498.9 720.2 1500.7 719.8 1502.8 719.8C1504.8 719.7 1507.0 719.9 1509.2 719.6C1511.5 719.3 1514.2 718.1 1516.3 717.8C1518.4 717.5 1519.1 717.8 1521.6 717.9C1524.1 718.0 1529.0 717.9 1531.5 718.4C1534.1 718.9 1534.7 720.2 1536.8 720.7C1538.9 721.3 1542.1 721.7 1544.1 721.8C1546.1 721.8 1547.3 720.9 1548.9 720.9C1550.4 720.9 1551.4 721.4 1553.6 721.7C1555.7 722.0 1559.5 722.6 1561.6 722.7C1563.7 722.8 1564.7 722.5 1566.0 722.2C1567.4 722.0 1568.1 721.3 1569.8 721.3C1571.5 721.3 1573.2 722.4 1576.3 722.2C1579.4 722.0 1585.1 720.7 1588.7 720.2C1592.2 719.6 1594.4 719.2 1597.5 719.0C1600.6 718.7 1604.9 718.9 1607.5 718.7C1610.2 718.4 1610.2 717.5 1613.4 717.3C1616.6 717.2 1623.7 717.6 1627.0 717.6C1630.3 717.7 1630.9 717.5 1633.2 717.6C1635.5 717.8 1638.1 718.8 1640.5 718.6C1642.9 718.4 1644.7 716.8 1647.6 716.3C1650.4 715.8 1654.2 715.6 1657.6 715.5C1660.9 715.5 1664.8 716.3 1667.6 716.1C1670.4 715.9 1672.2 714.6 1674.4 714.2C1676.7 713.9 1678.7 713.8 1681.1 713.8C1683.5 713.8 1685.9 714.3 1688.8 714.2C1691.7 714.1 1696.3 713.4 1698.8 713.3C1701.3 713.2 1702.9 713.7 1703.8 713.8" fill="none" stroke="#b4c6ec" stroke-width="1"/>
<rect x="892.1" y="696.3" width="1.6" height="5.4" fill="#fff"/>
<rect x="896.1" y="696.3" width="1.6" height="5.4" fill="#fff"/>
<rect x="899.8" y="696.3" width="1.6" height="5.4" fill="#fff"/>
<line x1="91.2" x2="91.2" y1="704.4" y2="748.5" stroke="#a9b1c6" stroke-width="1.6"/>
<rect x="86.5" y="712.3" width="9.4" height="28" rx="2.5" fill="#fff" stroke="#a9acb6" stroke-width="1.25"/>
<line x1="1702.3" x2="1702.3" y1="704.4" y2="748.5" stroke="#a9b1c6" stroke-width="1.6"/>
<rect x="1697.6" y="712.3" width="9.4" height="28" rx="2.5" fill="#fff" stroke="#a9acb6" stroke-width="1.25"/>
<line x1="728.3" x2="765.7" y1="772.6" y2="772.6" stroke="#4a4e5a" stroke-width="3"/>
<circle cx="746.9" cy="772.6" r="5.6" fill="#fff" stroke="#4a4e5a" stroke-width="3.1"/>
<line x1="903.7" x2="941.1" y1="772.6" y2="772.6" stroke="#ef9f5e" stroke-width="3"/>
<circle cx="922.3" cy="772.6" r="5.6" fill="#fff" stroke="#ef9f5e" stroke-width="3.1"/></svg>
<div class="abs lg" style="left:773.200px">ETH价格($)</div>
<div class="abs lg" style="left:947.600px;letter-spacing:0">ETH2.0总质押数</div>
<div class="abs" id="ts">2021-10-28 09:00:00</div>
</div></body></html>
